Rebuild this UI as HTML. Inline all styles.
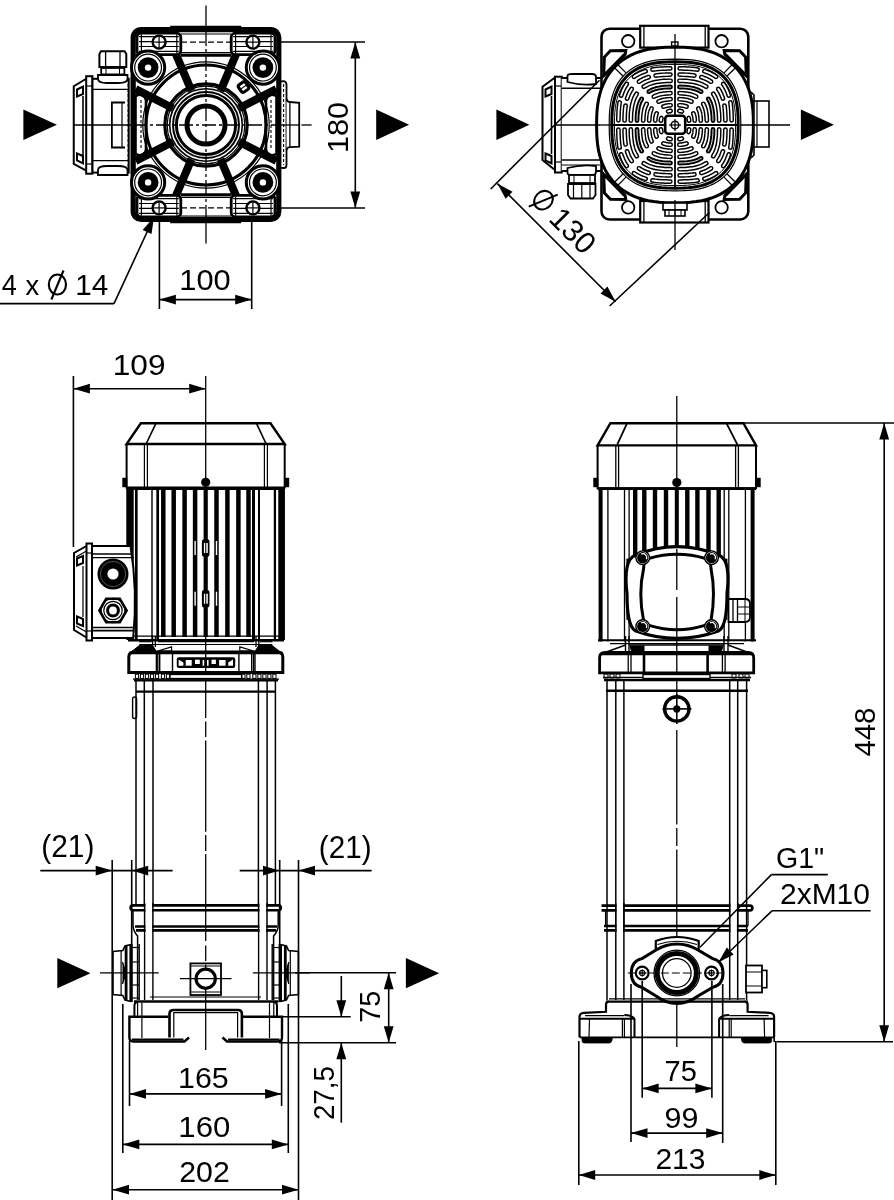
<!DOCTYPE html>
<html><head><meta charset="utf-8"><style>
html,body{margin:0;padding:0;background:#fff;width:894px;height:1200px;overflow:hidden}
svg{display:block;will-change:transform}
text{font-family:"Liberation Sans",sans-serif;fill:#000}
</style></head><body>
<svg width="894" height="1200" viewBox="0 0 894 1200" stroke="#000" fill="none" stroke-linecap="butt">
<line x1="205.7" y1="376.0" x2="205.7" y2="718.0" stroke-width="1.3" />
<line x1="205.7" y1="721.5" x2="205.7" y2="737.0" stroke-width="1.3" />
<line x1="205.7" y1="740.6" x2="205.7" y2="831.8" stroke-width="1.3" />
<line x1="205.7" y1="835.0" x2="205.7" y2="851.0" stroke-width="1.3" />
<line x1="205.7" y1="854.0" x2="205.7" y2="941.0" stroke-width="1.3" />
<line x1="205.7" y1="945.4" x2="205.7" y2="961.0" stroke-width="1.3" />
<line x1="205.7" y1="964.5" x2="205.7" y2="1050.0" stroke-width="1.3" />
<path d="M140.8,423.2 L270.5,423.2 L284.7,444 L126.6,444 Z" stroke-width="2.4" fill="none" />
<path d="M126.6,444 L126.6,487.6 L284.7,487.6 L284.7,444" stroke-width="2.0" fill="none" />
<line x1="155.7" y1="423.8" x2="146.1" y2="444.0" stroke-width="1.6" />
<line x1="256.7" y1="423.8" x2="266.2" y2="444.0" stroke-width="1.6" />
<line x1="144.4" y1="444.0" x2="144.4" y2="487.6" stroke-width="1.2" />
<line x1="147.4" y1="444.0" x2="147.4" y2="487.6" stroke-width="1.2" />
<line x1="264.4" y1="444.0" x2="264.4" y2="487.6" stroke-width="1.2" />
<line x1="267.4" y1="444.0" x2="267.4" y2="487.6" stroke-width="1.2" />
<rect x="123.0" y="478.5" width="3.6" height="8.0" rx="0" stroke-width="1.4" fill="#000" />
<rect x="284.9" y="478.5" width="3.6" height="8.0" rx="0" stroke-width="1.4" fill="#000" />
<circle cx="205.7" cy="482.3" r="4.6" stroke-width="0" fill="#000" stroke="none"/>
<line x1="126.6" y1="488.6" x2="284.7" y2="488.6" stroke-width="2.6" />
<line x1="130.0" y1="488.0" x2="130.0" y2="640.0" stroke-width="7.4" />
<line x1="136.3" y1="488.0" x2="136.3" y2="640.0" stroke-width="2.7" />
<line x1="152.0" y1="488.0" x2="152.0" y2="640.0" stroke-width="1.4" />
<line x1="157.7" y1="488.0" x2="157.7" y2="640.0" stroke-width="2.7" />
<line x1="163.3" y1="488.0" x2="163.3" y2="637.0" stroke-width="4.5" />
<line x1="173.7" y1="488.0" x2="173.7" y2="637.0" stroke-width="4.5" />
<line x1="184.6" y1="488.0" x2="184.6" y2="637.0" stroke-width="4.5" />
<line x1="195.1" y1="488.0" x2="195.1" y2="637.0" stroke-width="4.5" />
<line x1="216.5" y1="488.0" x2="216.5" y2="637.0" stroke-width="4.5" />
<line x1="227.4" y1="488.0" x2="227.4" y2="637.0" stroke-width="4.5" />
<line x1="238.4" y1="488.0" x2="238.4" y2="637.0" stroke-width="4.5" />
<line x1="248.5" y1="488.0" x2="248.5" y2="637.0" stroke-width="4.5" />
<line x1="205.7" y1="488.0" x2="205.7" y2="637.0" stroke-width="4.2" />
<line x1="253.5" y1="488.0" x2="253.5" y2="640.0" stroke-width="3.0" />
<line x1="259.0" y1="488.0" x2="259.0" y2="640.0" stroke-width="2.0" />
<line x1="274.9" y1="488.0" x2="274.9" y2="640.0" stroke-width="2.3" />
<line x1="281.6" y1="488.0" x2="281.6" y2="640.0" stroke-width="6.7" />
<line x1="128.0" y1="636.2" x2="284.0" y2="636.2" stroke-width="1.3" />
<line x1="128.0" y1="640.2" x2="284.0" y2="640.2" stroke-width="2.4" />
<rect x="202.6" y="540.0" width="6.2" height="16.0" rx="1.5" stroke-width="1.4" fill="#000" />
<rect x="203.9" y="543.0" width="1.3" height="10.0" rx="0" stroke-width="0" fill="#fff" stroke="none"/>
<rect x="206.3" y="543.0" width="1.5" height="10.0" rx="0" stroke-width="0" fill="#fff" stroke="none"/>
<rect x="194.4" y="541.0" width="1.4" height="14.0" rx="0" stroke-width="0" fill="#fff" stroke="none"/>
<rect x="215.8" y="541.0" width="1.4" height="14.0" rx="0" stroke-width="0" fill="#fff" stroke="none"/>
<rect x="202.6" y="590.7" width="6.2" height="16.0" rx="1.5" stroke-width="1.4" fill="#000" />
<rect x="203.9" y="593.7" width="1.3" height="10.0" rx="0" stroke-width="0" fill="#fff" stroke="none"/>
<rect x="206.3" y="593.7" width="1.5" height="10.0" rx="0" stroke-width="0" fill="#fff" stroke="none"/>
<rect x="194.4" y="591.7" width="1.4" height="14.0" rx="0" stroke-width="0" fill="#fff" stroke="none"/>
<rect x="215.8" y="591.7" width="1.4" height="14.0" rx="0" stroke-width="0" fill="#fff" stroke="none"/>
<path d="M92,546 L130.5,546 Q137.8,590 133.2,638 L92,638" stroke-width="2.0" fill="#fff" />
<line x1="92.0" y1="554.0" x2="133.0" y2="554.0" stroke-width="1.6" />
<line x1="92.0" y1="557.6" x2="134.0" y2="557.6" stroke-width="1.3" />
<line x1="92.0" y1="627.5" x2="135.0" y2="627.5" stroke-width="1.3" />
<line x1="92.0" y1="630.6" x2="134.5" y2="630.6" stroke-width="1.6" />
<rect x="86.5" y="543.5" width="5.5" height="97.0" rx="0" stroke-width="2.0" fill="#fff" />
<line x1="86.5" y1="553.0" x2="92.0" y2="553.0" stroke-width="1.2" />
<line x1="86.5" y1="631.0" x2="92.0" y2="631.0" stroke-width="1.2" />
<path d="M86.5,546 L74,553 L74,630 L86.5,637.5" stroke-width="2.0" fill="none" />
<line x1="76.0" y1="557.0" x2="86.5" y2="551.0" stroke-width="1.2" />
<line x1="76.0" y1="626.0" x2="86.5" y2="632.0" stroke-width="1.2" />
<path d="M77,558.5 L83,556 L83,563 L77,565.5 Z" stroke-width="2.0" fill="none" />
<path d="M77,616.5 L83,619 L83,626 L77,623.5 Z" stroke-width="2.0" fill="none" />
<line x1="83.0" y1="566.0" x2="83.0" y2="617.0" stroke-width="1.2" />
<circle cx="113.0" cy="574.0" r="15.5" stroke-width="0" fill="#000" stroke="none"/>
<circle cx="113.0" cy="574.0" r="12.6" stroke-width="0.6" fill="none" stroke="#888"/>
<circle cx="113.0" cy="574.0" r="5.6" stroke-width="0" fill="#fff" stroke="none"/>
<polygon points="126.6,610.5 119.8,622.3 106.2,622.3 99.4,610.5 106.2,598.7 119.8,598.7" stroke-width="2.6" fill="none"/>
<circle cx="113.0" cy="610.5" r="12.0" stroke-width="1.4" fill="none" />
<circle cx="113.0" cy="610.5" r="9.2" stroke-width="1.2" fill="none" />
<circle cx="113.0" cy="610.5" r="5.4" stroke-width="3.0" fill="none" />
<line x1="152.6" y1="636.0" x2="152.6" y2="647.0" stroke-width="1.3" />
<line x1="258.8" y1="636.0" x2="258.8" y2="647.0" stroke-width="1.3" />
<line x1="155.4" y1="636.0" x2="155.4" y2="647.0" stroke-width="1.3" />
<line x1="256.0" y1="636.0" x2="256.0" y2="647.0" stroke-width="1.3" />
<line x1="139.0" y1="641.7" x2="151.6" y2="641.7" stroke-width="1.2" />
<line x1="157.8" y1="641.7" x2="254.0" y2="641.7" stroke-width="1.2" />
<line x1="272.4" y1="641.7" x2="259.8" y2="641.7" stroke-width="1.2" />
<path d="M131.7,651.5 L139.3,645.5 L152,644.5 L156.4,651.5 Z" stroke-width="1.0" fill="#000" />
<path d="M157.8,651 L171.6,646.9 L171.6,651 Z" stroke-width="1.2" fill="none" />
<path d="M279.7,651.5 L272.09999999999997,645.5 L259.4,644.5 L254.99999999999997,651.5 Z" stroke-width="1.0" fill="#000" />
<path d="M253.59999999999997,651 L239.79999999999998,646.9 L239.79999999999998,651 Z" stroke-width="1.2" fill="none" />
<line x1="139.3" y1="644.5" x2="272.3" y2="644.5" stroke-width="1.2" />
<path d="M128.8,672.5 L128.8,657 Q128.8,652 134,652 L277.6,652 Q282.8,652 282.8,657 L282.8,672.5 Z" stroke-width="3.0" fill="none" />
<line x1="129.0" y1="653.0" x2="282.6" y2="653.0" stroke-width="2.4" />
<line x1="156.4" y1="653.0" x2="156.4" y2="672.5" stroke-width="1.4" />
<line x1="255.0" y1="653.0" x2="255.0" y2="672.5" stroke-width="1.4" />
<line x1="157.8" y1="653.0" x2="157.8" y2="672.5" stroke-width="1.4" />
<line x1="253.6" y1="653.0" x2="253.6" y2="672.5" stroke-width="1.4" />
<line x1="159.7" y1="653.0" x2="159.7" y2="672.5" stroke-width="1.4" />
<line x1="251.7" y1="653.0" x2="251.7" y2="672.5" stroke-width="1.4" />
<line x1="172.5" y1="653.0" x2="172.5" y2="672.5" stroke-width="1.4" />
<line x1="238.9" y1="653.0" x2="238.9" y2="672.5" stroke-width="1.4" />
<rect x="176.8" y="657.2" width="58.4" height="10.9" rx="2" stroke-width="0" fill="#000" stroke="none"/>
<rect x="185.7" y="660.0" width="6.0" height="5.7" rx="0" stroke-width="0" fill="#fff" stroke="none"/>
<rect x="195.0" y="659.7" width="4.8" height="4.3" rx="0" stroke-width="0" fill="#fff" stroke="none"/>
<rect x="202.6" y="660.0" width="1.6" height="5.7" rx="0" stroke-width="0" fill="#fff" stroke="none"/>
<rect x="207.0" y="660.0" width="1.6" height="5.7" rx="0" stroke-width="0" fill="#fff" stroke="none"/>
<rect x="211.5" y="659.7" width="4.4" height="4.3" rx="0" stroke-width="0" fill="#fff" stroke="none"/>
<rect x="219.1" y="660.0" width="6.5" height="5.7" rx="0" stroke-width="0" fill="#fff" stroke="none"/>
<path d="M178.6,659.6 L183.4,662.5 L183.4,665.8 L178.6,665.8 Z" stroke-width="0" fill="#fff" stroke="none"/>
<path d="M233,659.6 L228.2,662.5 L228.2,665.8 L233,665.8 Z" stroke-width="0" fill="#fff" stroke="none"/>
<line x1="174.0" y1="672.5" x2="238.0" y2="672.5" stroke-width="1.2" />
<line x1="133.0" y1="679.2" x2="279.0" y2="679.2" stroke-width="1.3" />
<rect x="135.4" y="674.2" width="3.2" height="4.2" rx="0" stroke-width="1.0" fill="none" />
<rect x="272.8" y="674.2" width="3.2" height="4.2" rx="0" stroke-width="1.0" fill="none" />
<rect x="140.4" y="674.2" width="3.2" height="4.2" rx="0" stroke-width="1.0" fill="none" />
<rect x="267.8" y="674.2" width="3.2" height="4.2" rx="0" stroke-width="1.0" fill="none" />
<rect x="145.4" y="674.2" width="3.2" height="4.2" rx="0" stroke-width="1.0" fill="none" />
<rect x="262.8" y="674.2" width="3.2" height="4.2" rx="0" stroke-width="1.0" fill="none" />
<rect x="150.4" y="674.2" width="3.2" height="4.2" rx="0" stroke-width="1.0" fill="none" />
<rect x="257.8" y="674.2" width="3.2" height="4.2" rx="0" stroke-width="1.0" fill="none" />
<rect x="155.4" y="674.2" width="3.2" height="4.2" rx="0" stroke-width="1.0" fill="none" />
<rect x="252.8" y="674.2" width="3.2" height="4.2" rx="0" stroke-width="1.0" fill="none" />
<rect x="161.4" y="674.2" width="3.2" height="4.2" rx="0" stroke-width="1.0" fill="none" />
<rect x="246.8" y="674.2" width="3.2" height="4.2" rx="0" stroke-width="1.0" fill="none" />
<rect x="166.4" y="674.2" width="3.2" height="4.2" rx="0" stroke-width="1.0" fill="none" />
<rect x="241.8" y="674.2" width="3.2" height="4.2" rx="0" stroke-width="1.0" fill="none" />
<rect x="170.0" y="674.5" width="71.6" height="4.0" rx="0" stroke-width="1.3" fill="#fff" />
<line x1="134.0" y1="680.4" x2="278.0" y2="680.4" stroke-width="2.2" />
<line x1="136.0" y1="691.6" x2="276.0" y2="691.6" stroke-width="2.4" />
<line x1="136.0" y1="681.0" x2="136.0" y2="905.0" stroke-width="1.5" />
<line x1="144.3" y1="681.0" x2="144.3" y2="905.0" stroke-width="1.5" />
<line x1="153.0" y1="681.0" x2="153.0" y2="905.0" stroke-width="1.5" />
<line x1="258.4" y1="681.0" x2="258.4" y2="905.0" stroke-width="1.5" />
<line x1="267.1" y1="681.0" x2="267.1" y2="905.0" stroke-width="1.5" />
<line x1="275.4" y1="681.0" x2="275.4" y2="905.0" stroke-width="1.5" />
<rect x="132.6" y="697.0" width="4.0" height="21.5" rx="2" stroke-width="1.4" fill="none" />
<path d="M133,905.4 L278.4,905.4 Q280.8,905.4 280.8,907.8 Q280.8,910.2 278.4,910.2 L133,910.2 Q130.6,910.2 130.6,907.8 Q130.6,905.4 133,905.4 Z" stroke-width="2.6" fill="none" />
<line x1="135.0" y1="926.5" x2="277.0" y2="926.5" stroke-width="2.4" />
<line x1="136.0" y1="930.4" x2="276.0" y2="930.4" stroke-width="2.8" />
<rect x="145.4" y="903.0" width="6.7" height="29.0" rx="0" stroke-width="0" fill="#fff" stroke="none"/>
<line x1="144.6" y1="903.0" x2="144.6" y2="932.0" stroke-width="1.5" />
<line x1="152.9" y1="903.0" x2="152.9" y2="932.0" stroke-width="1.5" />
<rect x="259.4" y="903.0" width="6.8" height="29.0" rx="0" stroke-width="0" fill="#fff" stroke="none"/>
<line x1="258.6" y1="903.0" x2="258.6" y2="932.0" stroke-width="1.5" />
<line x1="267.0" y1="903.0" x2="267.0" y2="932.0" stroke-width="1.5" />
<path d="M133,910.5 L133,925 Q133,931 137.6,936 L137.6,1000" stroke-width="1.5" fill="none" />
<path d="M278.2,910.5 L278.2,925 Q278.2,931 273.6,936 L273.6,1000" stroke-width="1.5" fill="none" />
<line x1="144.6" y1="929.0" x2="144.6" y2="1000.0" stroke-width="1.4" />
<line x1="152.9" y1="929.0" x2="152.9" y2="1000.0" stroke-width="1.4" />
<line x1="258.6" y1="929.0" x2="258.6" y2="1000.0" stroke-width="1.4" />
<line x1="267.0" y1="929.0" x2="267.0" y2="1000.0" stroke-width="1.4" />
<path d="M131,944.4 L125,946 L122.8,950.5 L113,951.5 L113,994.5 L122.8,995.5 L125,1000 L131,1001.5" stroke-width="1.6" fill="#fff" />
<line x1="121.1" y1="951.0" x2="121.1" y2="995.0" stroke-width="1.2" />
<line x1="126.1" y1="946.0" x2="126.1" y2="1000.0" stroke-width="2.8" />
<line x1="131.1" y1="944.0" x2="131.1" y2="1002.0" stroke-width="3.4" />
<path d="M122.5,962 L126,973 L122.5,984" stroke-width="1.2" fill="#000" />
<line x1="132.5" y1="947.5" x2="139.0" y2="947.5" stroke-width="1.2" />
<line x1="132.5" y1="962.0" x2="139.0" y2="962.0" stroke-width="1.2" />
<line x1="132.5" y1="985.0" x2="139.0" y2="985.0" stroke-width="1.2" />
<line x1="132.5" y1="998.0" x2="139.0" y2="998.0" stroke-width="1.2" />
<line x1="139.2" y1="944.0" x2="139.2" y2="1000.0" stroke-width="1.4" />
<path d="M280.4,944.4 L286.4,946 L288.59999999999997,950.5 L298.4,951.5 L298.4,994.5 L288.59999999999997,995.5 L286.4,1000 L280.4,1001.5" stroke-width="1.6" fill="#fff" />
<line x1="290.3" y1="951.0" x2="290.3" y2="995.0" stroke-width="1.2" />
<line x1="285.3" y1="946.0" x2="285.3" y2="1000.0" stroke-width="2.8" />
<line x1="280.3" y1="944.0" x2="280.3" y2="1002.0" stroke-width="3.4" />
<path d="M288.9,962 L285.4,973 L288.9,984" stroke-width="1.2" fill="#000" />
<line x1="278.9" y1="947.5" x2="272.4" y2="947.5" stroke-width="1.2" />
<line x1="278.9" y1="962.0" x2="272.4" y2="962.0" stroke-width="1.2" />
<line x1="278.9" y1="985.0" x2="272.4" y2="985.0" stroke-width="1.2" />
<line x1="278.9" y1="998.0" x2="272.4" y2="998.0" stroke-width="1.2" />
<line x1="272.2" y1="944.0" x2="272.2" y2="1000.0" stroke-width="1.4" />
<line x1="100.0" y1="972.8" x2="158.7" y2="972.8" stroke-width="1.3" />
<line x1="252.9" y1="972.8" x2="310.0" y2="972.8" stroke-width="1.3" />
<rect x="190.4" y="963.4" width="30.6" height="31.6" rx="0" stroke-width="1.8" fill="none" />
<line x1="190.4" y1="966.0" x2="221.0" y2="966.0" stroke-width="1.0" />
<line x1="190.4" y1="992.0" x2="221.0" y2="992.0" stroke-width="1.0" />
<circle cx="205.7" cy="978.7" r="9.6" stroke-width="3.2" fill="#fff" />
<line x1="180.0" y1="978.7" x2="231.5" y2="978.7" stroke-width="1.3" />
<line x1="150.0" y1="997.0" x2="261.0" y2="997.0" stroke-width="1.2" />
<line x1="134.0" y1="1001.5" x2="278.5" y2="1001.5" stroke-width="2.6" />
<path d="M134.4,1016.8 L134.4,1006 Q134.4,1002 138,1002 M277,1016.8 L277,1006 Q277,1002 273.4,1002" stroke-width="2.0" fill="none" />
<line x1="137.6" y1="1003.0" x2="137.6" y2="1016.8" stroke-width="1.2" />
<line x1="141.9" y1="1003.0" x2="141.9" y2="1016.8" stroke-width="1.2" />
<line x1="269.5" y1="1003.0" x2="269.5" y2="1016.8" stroke-width="1.2" />
<line x1="273.8" y1="1003.0" x2="273.8" y2="1016.8" stroke-width="1.2" />
<path d="M189,1037.5 L184.5,1041.5 L133.4,1041.5 Q129.4,1041.5 129.4,1037.5 L129.4,1016.8 L168.5,1016.8 M243,1016.8 L282,1016.8 L282,1037.5 Q282,1041.5 278,1041.5 L227,1041.5 L222.5,1037.5" stroke-width="2.4" fill="none" />
<line x1="132.0" y1="1039.6" x2="183.5" y2="1039.6" stroke-width="2.0" />
<line x1="228.0" y1="1039.6" x2="279.5" y2="1039.6" stroke-width="2.0" />
<path d="M169.5,1037.5 L169.5,1014 Q169.5,1010 173.5,1010 L237.9,1010 Q241.9,1010 241.9,1014 L241.9,1037.5" stroke-width="2.6" fill="none" />
<path d="M173.8,1037.5 L173.8,1012.6 L237.6,1012.6 L237.6,1037.5" stroke-width="1.2" fill="none" />
<line x1="141.9" y1="1018.0" x2="141.9" y2="1038.0" stroke-width="1.2" />
<line x1="269.5" y1="1018.0" x2="269.5" y2="1038.0" stroke-width="1.2" />
<line x1="676.8" y1="396.0" x2="676.8" y2="722.0" stroke-width="1.3" />
<line x1="676.8" y1="730.0" x2="676.8" y2="824.6" stroke-width="1.3" />
<line x1="676.8" y1="828.0" x2="676.8" y2="846.0" stroke-width="1.3" />
<line x1="676.8" y1="849.4" x2="676.8" y2="1047.0" stroke-width="1.3" />
<path d="M610.4,423.2 L743.4,423.2 L756,445.4 L597.6,445.4 Z" stroke-width="2.4" fill="none" />
<path d="M597.6,445.4 L597.6,488.3 L756,488.3 L756,445.4" stroke-width="2.0" fill="none" />
<line x1="626.8" y1="423.8" x2="617.2" y2="444.6" stroke-width="1.8" />
<line x1="726.8" y1="423.8" x2="737.4" y2="444.6" stroke-width="1.8" />
<line x1="615.8" y1="445.4" x2="615.8" y2="488.3" stroke-width="1.3" />
<line x1="618.6" y1="445.4" x2="618.6" y2="488.3" stroke-width="1.3" />
<line x1="735.6" y1="445.4" x2="735.6" y2="488.3" stroke-width="1.3" />
<line x1="738.4" y1="445.4" x2="738.4" y2="488.3" stroke-width="1.3" />
<rect x="594.0" y="478.5" width="3.6" height="8.0" rx="0" stroke-width="1.4" fill="#000" />
<rect x="756.4" y="478.5" width="3.6" height="8.0" rx="0" stroke-width="1.4" fill="#000" />
<circle cx="676.8" cy="482.5" r="4.6" stroke-width="0" fill="#000" stroke="none"/>
<line x1="597.6" y1="488.6" x2="756.0" y2="488.6" stroke-width="2.6" />
<line x1="600.6" y1="488.0" x2="600.6" y2="641.5" stroke-width="4.0" />
<line x1="607.9" y1="488.0" x2="607.9" y2="641.5" stroke-width="1.3" />
<line x1="752.6" y1="488.0" x2="752.6" y2="641.5" stroke-width="4.0" />
<line x1="745.4" y1="488.0" x2="745.4" y2="641.5" stroke-width="1.3" />
<line x1="624.5" y1="488.0" x2="624.5" y2="641.5" stroke-width="1.3" />
<line x1="629.1" y1="488.0" x2="629.1" y2="641.5" stroke-width="1.3" />
<line x1="724.2" y1="488.0" x2="724.2" y2="641.5" stroke-width="1.3" />
<line x1="728.8" y1="488.0" x2="728.8" y2="641.5" stroke-width="1.3" />
<line x1="635.2" y1="488.0" x2="635.2" y2="600.0" stroke-width="4.4" />
<line x1="644.3" y1="488.0" x2="644.3" y2="600.0" stroke-width="4.4" />
<line x1="655.0" y1="488.0" x2="655.0" y2="600.0" stroke-width="4.4" />
<line x1="666.0" y1="488.0" x2="666.0" y2="600.0" stroke-width="4.4" />
<line x1="687.3" y1="488.0" x2="687.3" y2="600.0" stroke-width="4.4" />
<line x1="697.4" y1="488.0" x2="697.4" y2="600.0" stroke-width="4.4" />
<line x1="708.5" y1="488.0" x2="708.5" y2="600.0" stroke-width="4.4" />
<line x1="718.7" y1="488.0" x2="718.7" y2="600.0" stroke-width="4.4" />
<line x1="676.8" y1="488.0" x2="676.8" y2="600.0" stroke-width="4.0" />
<line x1="598.0" y1="640.2" x2="756.0" y2="640.2" stroke-width="2.0" />
<line x1="610.0" y1="643.6" x2="744.0" y2="643.6" stroke-width="1.3" />
<rect x="627.2" y="559.4" width="99.4" height="59.6" rx="0" stroke-width="1.6" fill="#fff" />
<path d="M635.2,555.2 Q677,538 719,555.2 Q731,560 727,593.8 Q727,626 719,630.7 Q677,646 635.2,630.7 Q627,626 627,593.8 Q623,560 635.2,555.2 Z" stroke-width="3.2" fill="#fff" />
<path d="M648.6,558.5 Q677,550 705.6,558.5 Q711,560 711,568.6 Q716,593.8 711,620.6 Q710,625.6 704,625.6 Q677,634 650,625.6 Q644,625 643.6,620.6 Q638,593.8 643.6,568.6 Q643.6,559.5 648.6,558.5 Z" stroke-width="3.0" fill="#fff" />
<line x1="676.8" y1="549.0" x2="676.8" y2="590.0" stroke-width="1.3" />
<line x1="676.8" y1="597.0" x2="676.8" y2="640.0" stroke-width="1.3" />
<circle cx="642.7" cy="557.7" r="6.8" stroke-width="1.4" fill="#fff" />
<circle cx="642.7" cy="557.7" r="5.6" stroke-width="0" fill="#000" stroke="none"/>
<path d="M641.2,554.1 A3.8,3.8 0 0 1 646.3,559.2" stroke="#fff" stroke-width="1.2"/>
<circle cx="711.5" cy="557.7" r="6.8" stroke-width="1.4" fill="#fff" />
<circle cx="711.5" cy="557.7" r="5.6" stroke-width="0" fill="#000" stroke="none"/>
<path d="M710.0,554.1 A3.8,3.8 0 0 1 715.1,559.2" stroke="#fff" stroke-width="1.2"/>
<circle cx="642.7" cy="626.5" r="6.8" stroke-width="1.4" fill="#fff" />
<circle cx="642.7" cy="626.5" r="5.6" stroke-width="0" fill="#000" stroke="none"/>
<path d="M641.2,622.9 A3.8,3.8 0 0 1 646.3,628.0" stroke="#fff" stroke-width="1.2"/>
<circle cx="711.5" cy="626.5" r="6.8" stroke-width="1.4" fill="#fff" />
<circle cx="711.5" cy="626.5" r="5.6" stroke-width="0" fill="#000" stroke="none"/>
<path d="M710.0,622.9 A3.8,3.8 0 0 1 715.1,628.0" stroke="#fff" stroke-width="1.2"/>
<path d="M728.5,599 L745,599 Q750,599 750,604 L750,617 Q750,622 745,622 L728.5,622 Z" stroke-width="1.8" fill="#fff" />
<line x1="733.0" y1="599.0" x2="733.0" y2="622.0" stroke-width="1.3" />
<line x1="737.5" y1="599.0" x2="737.5" y2="622.0" stroke-width="1.3" />
<line x1="745.0" y1="600.0" x2="745.0" y2="621.0" stroke-width="1.0" />
<line x1="737.5" y1="607.0" x2="750.0" y2="607.0" stroke-width="1.0" />
<line x1="737.5" y1="614.0" x2="750.0" y2="614.0" stroke-width="1.0" />
<line x1="625.5" y1="636.0" x2="625.5" y2="653.5" stroke-width="1.4" />
<line x1="629.0" y1="636.0" x2="629.0" y2="653.5" stroke-width="1.4" />
<line x1="724.0" y1="636.0" x2="724.0" y2="653.5" stroke-width="1.4" />
<line x1="728.0" y1="636.0" x2="728.0" y2="653.5" stroke-width="1.4" />
<path d="M602.4,653.5 L625.5,645 M629,645 L724,645 M728,645 L751,653.5" stroke-width="1.6" fill="none" />
<path d="M630,646 L644,646 L644,653 L632,653 Z" stroke-width="1.0" fill="#000" />
<path d="M723,646 L709,646 L709,653 L721,653 Z" stroke-width="1.0" fill="#000" />
<path d="M599.6,672.8 L599.6,658 Q599.6,652.5 605,652.5 L748.3,652.5 Q753.7,652.5 753.7,658 L753.7,672.8 Z" stroke-width="2.8" fill="none" />
<line x1="600.0" y1="654.2" x2="753.0" y2="654.2" stroke-width="2.0" />
<line x1="628.2" y1="654.0" x2="628.2" y2="672.8" stroke-width="1.3" />
<line x1="631.0" y1="654.0" x2="631.0" y2="672.8" stroke-width="1.3" />
<line x1="722.4" y1="654.0" x2="722.4" y2="672.8" stroke-width="1.3" />
<line x1="725.1" y1="654.0" x2="725.1" y2="672.8" stroke-width="1.3" />
<line x1="644.0" y1="654.0" x2="644.0" y2="672.8" stroke-width="2.6" />
<line x1="707.6" y1="654.0" x2="707.6" y2="672.8" stroke-width="2.6" />
<line x1="603.0" y1="677.5" x2="751.0" y2="677.5" stroke-width="1.3" />
<rect x="604.0" y="674.0" width="4.0" height="4.0" rx="0" stroke-width="1.0" fill="none" />
<rect x="610.0" y="674.0" width="4.0" height="4.0" rx="0" stroke-width="1.0" fill="none" />
<rect x="616.0" y="674.0" width="4.0" height="4.0" rx="0" stroke-width="1.0" fill="none" />
<rect x="732.0" y="674.0" width="4.0" height="4.0" rx="0" stroke-width="1.0" fill="none" />
<rect x="739.0" y="674.0" width="4.0" height="4.0" rx="0" stroke-width="1.0" fill="none" />
<rect x="745.0" y="674.0" width="4.0" height="4.0" rx="0" stroke-width="1.0" fill="none" />
<rect x="643.0" y="674.5" width="67.0" height="4.0" rx="0" stroke-width="1.4" fill="#fff" />
<line x1="604.0" y1="680.2" x2="750.0" y2="680.2" stroke-width="2.2" />
<line x1="606.0" y1="690.8" x2="748.0" y2="690.8" stroke-width="2.4" />
<line x1="607.0" y1="681.0" x2="607.0" y2="1000.0" stroke-width="1.5" />
<line x1="615.8" y1="681.0" x2="615.8" y2="1000.0" stroke-width="1.5" />
<line x1="623.9" y1="681.0" x2="623.9" y2="1000.0" stroke-width="1.5" />
<line x1="729.7" y1="681.0" x2="729.7" y2="1000.0" stroke-width="1.5" />
<line x1="737.7" y1="681.0" x2="737.7" y2="1000.0" stroke-width="1.5" />
<line x1="746.6" y1="681.0" x2="746.6" y2="1000.0" stroke-width="1.5" />
<circle cx="676.8" cy="708.9" r="12.2" stroke-width="3.4" fill="#fff" />
<circle cx="676.8" cy="708.9" r="3.6" stroke-width="0" fill="#000" stroke="none"/>
<line x1="662.4" y1="708.9" x2="691.5" y2="708.9" stroke-width="1.6" />
<line x1="676.8" y1="694.0" x2="676.8" y2="724.0" stroke-width="1.6" />
<path d="M601.5,905.6 L750,905.6 Q752.4,905.6 752.4,908 Q752.4,910.4 750,910.4 L601.5,910.4" stroke-width="2.6" fill="none" />
<line x1="604.0" y1="926.0" x2="748.0" y2="926.0" stroke-width="2.4" />
<line x1="604.0" y1="930.4" x2="748.0" y2="930.4" stroke-width="2.8" />
<line x1="748.0" y1="910.0" x2="748.0" y2="926.0" stroke-width="1.3" />
<line x1="605.6" y1="910.0" x2="605.6" y2="926.0" stroke-width="1.3" />
<rect x="616.6" y="903.0" width="6.5" height="29.0" rx="0" stroke-width="0" fill="#fff" stroke="none"/>
<line x1="615.8" y1="903.0" x2="615.8" y2="932.0" stroke-width="1.5" />
<line x1="623.9" y1="903.0" x2="623.9" y2="932.0" stroke-width="1.5" />
<rect x="730.5" y="903.0" width="6.4" height="29.0" rx="0" stroke-width="0" fill="#fff" stroke="none"/>
<line x1="729.7" y1="903.0" x2="729.7" y2="932.0" stroke-width="1.5" />
<line x1="737.7" y1="903.0" x2="737.7" y2="932.0" stroke-width="1.5" />
<path d="M655.8,952 L655.8,941 Q677,933 698.7,941 L698.7,952" stroke-width="2.2" fill="#fff" />
<path d="M657.5,944.5 Q677,938 697,944.5" stroke-width="1.2" fill="none" />
<path d="M631.3,973 Q631.3,961 642,958.6 L656,950 Q666,944 677,944 Q688,944 698,950 L712.6,958.6 Q723,961 723,973 Q723,985 712.6,987.4 L698,996 Q688,1003.5 677,1003.5 Q666,1003.5 656,996 L642,987.4 Q631.3,985 631.3,973 Z" stroke-width="3.0" fill="#fff" />
<circle cx="676.8" cy="973.0" r="22.8" stroke-width="1.3" fill="none" />
<circle cx="676.8" cy="973.0" r="19.6" stroke-width="5.0" fill="#fff" />
<circle cx="676.8" cy="973.0" r="14.3" stroke-width="1.3" fill="none" />
<circle cx="642.2" cy="973.0" r="6.4" stroke-width="2.2" fill="#fff" />
<circle cx="642.2" cy="973.0" r="2.6" stroke-width="1.1" fill="none" />
<line x1="638.7" y1="973.0" x2="645.7" y2="973.0" stroke-width="1.0" />
<line x1="642.2" y1="969.5" x2="642.2" y2="976.5" stroke-width="1.0" />
<circle cx="711.5" cy="973.0" r="6.4" stroke-width="2.2" fill="#fff" />
<circle cx="711.5" cy="973.0" r="2.6" stroke-width="1.1" fill="none" />
<line x1="708.0" y1="973.0" x2="715.0" y2="973.0" stroke-width="1.0" />
<line x1="711.5" y1="969.5" x2="711.5" y2="976.5" stroke-width="1.0" />
<line x1="627.8" y1="973.0" x2="725.0" y2="973.0" stroke-width="1.2" stroke-dasharray="8 3"/>
<rect x="746.0" y="965.5" width="16.0" height="27.0" rx="0" stroke-width="1.8" fill="#fff" />
<rect x="762.0" y="970.4" width="4.8" height="17.3" rx="0" stroke-width="1.6" fill="#fff" />
<line x1="746.0" y1="972.0" x2="762.0" y2="972.0" stroke-width="1.0" />
<line x1="746.0" y1="986.0" x2="762.0" y2="986.0" stroke-width="1.0" />
<line x1="606.0" y1="1001.6" x2="748.0" y2="1001.6" stroke-width="2.4" />
<path d="M579.5,1037.3 L579.5,1017 Q579.5,1013 584,1012.8 L606,1011.8 L606,1004.5 Q606,1001.6 609,1001.6" stroke-width="2.2" fill="none" />
<line x1="580.0" y1="1018.7" x2="634.5" y2="1018.7" stroke-width="2.0" />
<line x1="585.0" y1="1015.7" x2="624.4" y2="1015.7" stroke-width="1.2" />
<path d="M624.4,1015 Q632,1015 634.5,1019 L634.5,1037.3" stroke-width="2.0" fill="none" />
<line x1="579.5" y1="1037.3" x2="634.5" y2="1037.3" stroke-width="1.8" />
<path d="M582,1037.5 L582,1041 Q582,1043 585,1043 L609,1043 Q612.3,1043 612.3,1037.5 Z" stroke-width="0.8" fill="#000" />
<line x1="589.5" y1="1019.0" x2="589.0" y2="1037.3" stroke-width="1.2" />
<line x1="622.4" y1="1019.0" x2="622.4" y2="1037.3" stroke-width="1.2" />
<line x1="624.4" y1="1019.0" x2="624.4" y2="1037.3" stroke-width="1.2" />
<path d="M774.0999999999999,1037.3 L774.0999999999999,1017 Q774.0999999999999,1013 769.5999999999999,1012.8 L747.5999999999999,1011.8 L747.5999999999999,1004.5 Q747.5999999999999,1001.6 744.5999999999999,1001.6" stroke-width="2.2" fill="none" />
<line x1="773.6" y1="1018.7" x2="719.1" y2="1018.7" stroke-width="2.0" />
<line x1="768.6" y1="1015.7" x2="729.2" y2="1015.7" stroke-width="1.2" />
<path d="M729.1999999999999,1015 Q721.5999999999999,1015 719.0999999999999,1019 L719.0999999999999,1037.3" stroke-width="2.0" fill="none" />
<line x1="774.1" y1="1037.3" x2="719.1" y2="1037.3" stroke-width="1.8" />
<path d="M771.5999999999999,1037.5 L771.5999999999999,1041 Q771.5999999999999,1043 768.5999999999999,1043 L744.5999999999999,1043 Q741.3,1043 741.3,1037.5 Z" stroke-width="0.8" fill="#000" />
<line x1="764.1" y1="1019.0" x2="764.6" y2="1037.3" stroke-width="1.2" />
<line x1="731.2" y1="1019.0" x2="731.2" y2="1037.3" stroke-width="1.2" />
<line x1="729.2" y1="1019.0" x2="729.2" y2="1037.3" stroke-width="1.2" />
<line x1="634.5" y1="1037.3" x2="719.1" y2="1037.3" stroke-width="1.8" />
<line x1="609.0" y1="998.8" x2="745.0" y2="998.8" stroke-width="1.2" />
<line x1="774.2" y1="1037.3" x2="774.2" y2="1042.0" stroke-width="1.6" />
<path d="M86.25,78.75 L73.75,86.25 L73.75,164 L86.25,170.6" stroke-width="2.0" fill="#fff" />
<rect x="86.2" y="76.2" width="6.2" height="97.5" rx="0" stroke-width="2.0" fill="#fff" />
<line x1="86.2" y1="86.0" x2="92.5" y2="86.0" stroke-width="1.2" />
<line x1="86.2" y1="164.0" x2="92.5" y2="164.0" stroke-width="1.2" />
<rect x="92.5" y="78.8" width="36.2" height="93.8" rx="0" stroke-width="2.0" fill="#fff" />
<line x1="92.5" y1="89.4" x2="128.8" y2="89.4" stroke-width="1.4" />
<line x1="92.5" y1="160.6" x2="128.8" y2="160.6" stroke-width="1.4" />
<path d="M125,102.5 L111.9,102.5 L111.9,147.5 L125,147.5" stroke-width="1.8" fill="none" />
<line x1="122.0" y1="102.5" x2="122.0" y2="147.5" stroke-width="1.2" />
<line x1="128.2" y1="79.0" x2="128.2" y2="172.0" stroke-width="1.2" stroke-dasharray="3 2"/>
<line x1="131.9" y1="77.0" x2="131.9" y2="174.0" stroke-width="2.2" />
<path d="M77,89.5 L83,86.5 L83,94 L77,96.5 Z" stroke-width="2.0" fill="none" />
<path d="M77,153.5 L83,156 L83,163.5 L77,160.5 Z" stroke-width="2.0" fill="none" />
<line x1="83.0" y1="96.0" x2="83.0" y2="155.0" stroke-width="1.6" />
<path d="M101,51.3 L124.6,51.3 L126.3,54 L126.3,66.9 L99.4,66.9 L99.4,54 Z" stroke-width="2.0" fill="#fff" />
<line x1="105.6" y1="52.0" x2="105.6" y2="66.0" stroke-width="1.3" />
<line x1="120.0" y1="52.0" x2="120.0" y2="66.0" stroke-width="1.3" />
<rect x="101.2" y="68.0" width="23.2" height="6.4" rx="0" stroke-width="1.8" fill="#fff" />
<line x1="106.0" y1="68.0" x2="106.0" y2="74.0" stroke-width="1.0" />
<line x1="119.5" y1="68.0" x2="119.5" y2="74.0" stroke-width="1.0" />
<path d="M98,75 L127.5,75 L127.5,79 Q127.5,83 118,83 L107,83 Q98,83 98,79 Z" stroke-width="1.8" fill="#fff" />
<path d="M98,175 L127.5,175 L127.5,170 Q127.5,166 118,166 L107,166 Q98,166 98,170 Z" stroke-width="1.8" fill="#fff" />
<path d="M280,81.5 L284,81.2 Q286.5,82 286.5,85 L286.5,165 Q286.5,168 284,168 L280,167.8" stroke-width="1.8" fill="#fff" />
<line x1="283.6" y1="84.0" x2="283.6" y2="165.0" stroke-width="1.1" stroke-dasharray="3 2"/>
<path d="M286.5,99 Q287,102 290,102 L299.2,102.9 L299.2,146.7 L290,147.2 Q287,147.2 286.5,150" stroke-width="1.8" fill="#fff" />
<line x1="289.9" y1="102.5" x2="289.9" y2="147.0" stroke-width="1.3" />
<rect x="133.2" y="29.6" width="145.6" height="189.8" rx="8" stroke-width="5.2" fill="#fff" />
<path d="M171,30 L171,26.5 L240.4,26.5 L240.4,30" stroke-width="1.6" fill="none" />
<path d="M171,218 L171,222.5 L240.4,222.5 L240.4,218" stroke-width="1.6" fill="none" />
<path d="M135.5,96 Q144,92 146,100 L146,150 Q144,158 135.5,154 Z" stroke-width="2.6" fill="#fff" />
<line x1="141.0" y1="100.0" x2="141.0" y2="150.0" stroke-width="1.1" stroke-dasharray="3 2"/>
<path d="M276.5,96 Q268.0,92 266.0,100 L266.0,150 Q268.0,158 276.5,154 Z" stroke-width="2.6" fill="#fff" />
<line x1="271.0" y1="100.0" x2="271.0" y2="150.0" stroke-width="1.1" stroke-dasharray="3 2"/>
<circle cx="206.0" cy="125.0" r="63.2" stroke-width="1.2" fill="none" />
<circle cx="206.0" cy="125.0" r="60.0" stroke-width="3.0" fill="none" />
<circle cx="206.0" cy="125.0" r="41.2" stroke-width="3.2" fill="#fff" />
<circle cx="206.0" cy="125.0" r="38.8" stroke-width="1.2" fill="none" />
<circle cx="206.0" cy="125.0" r="36.3" stroke-width="1.6" fill="none" />
<circle cx="206.0" cy="125.0" r="33.0" stroke-width="2.0" fill="none" />
<circle cx="206.0" cy="125.0" r="29.6" stroke-width="3.0" fill="none" />
<circle cx="206.0" cy="125.0" r="19.0" stroke-width="5.0" fill="none" />
<line x1="220.5" y1="90.9" x2="236.9" y2="52.3" stroke-width="8.0"/>
<line x1="191.5" y1="90.9" x2="175.1" y2="52.3" stroke-width="8.0"/>
<line x1="220.5" y1="159.1" x2="236.9" y2="197.7" stroke-width="8.0"/>
<line x1="191.5" y1="159.1" x2="175.1" y2="197.7" stroke-width="8.0"/>
<line x1="239.0" y1="108.2" x2="276.4" y2="89.1" stroke-width="8.0"/>
<line x1="173.0" y1="108.2" x2="135.6" y2="89.1" stroke-width="8.0"/>
<line x1="239.0" y1="141.8" x2="276.4" y2="160.9" stroke-width="8.0"/>
<line x1="173.0" y1="141.8" x2="135.6" y2="160.9" stroke-width="8.0"/>
<rect x="137.0" y="33.2" width="43.8" height="21.4" rx="4" stroke-width="2.8" fill="#fff" />
<line x1="139.0" y1="36.6" x2="178.8" y2="36.6" stroke-width="1.1" />
<line x1="139.0" y1="41.6" x2="178.8" y2="41.6" stroke-width="1.1" />
<line x1="139.0" y1="46.5" x2="178.8" y2="46.5" stroke-width="1.1" />
<line x1="139.0" y1="51.4" x2="178.8" y2="51.4" stroke-width="1.1" />
<line x1="141.4" y1="34.2" x2="141.4" y2="53.6" stroke-width="1.2" />
<line x1="176.8" y1="34.2" x2="176.8" y2="53.6" stroke-width="1.2" />
<circle cx="159.1" cy="42.1" r="6.5" stroke-width="2.4" fill="#fff" />
<line x1="153.1" y1="42.1" x2="165.1" y2="42.1" stroke-width="1.2" />
<line x1="159.1" y1="36.1" x2="159.1" y2="48.1" stroke-width="1.2" />
<rect x="231.2" y="33.2" width="43.8" height="21.4" rx="4" stroke-width="2.8" fill="#fff" />
<line x1="233.2" y1="36.6" x2="273.0" y2="36.6" stroke-width="1.1" />
<line x1="233.2" y1="41.6" x2="273.0" y2="41.6" stroke-width="1.1" />
<line x1="233.2" y1="46.5" x2="273.0" y2="46.5" stroke-width="1.1" />
<line x1="233.2" y1="51.4" x2="273.0" y2="51.4" stroke-width="1.1" />
<line x1="235.6" y1="34.2" x2="235.6" y2="53.6" stroke-width="1.2" />
<line x1="271.0" y1="34.2" x2="271.0" y2="53.6" stroke-width="1.2" />
<circle cx="252.9" cy="42.1" r="6.5" stroke-width="2.4" fill="#fff" />
<line x1="246.9" y1="42.1" x2="258.9" y2="42.1" stroke-width="1.2" />
<line x1="252.9" y1="36.1" x2="252.9" y2="48.1" stroke-width="1.2" />
<rect x="137.0" y="195.4" width="43.8" height="21.4" rx="4" stroke-width="2.8" fill="#fff" />
<line x1="139.0" y1="213.4" x2="178.8" y2="213.4" stroke-width="1.1" />
<line x1="139.0" y1="208.4" x2="178.8" y2="208.4" stroke-width="1.1" />
<line x1="139.0" y1="203.5" x2="178.8" y2="203.5" stroke-width="1.1" />
<line x1="139.0" y1="198.6" x2="178.8" y2="198.6" stroke-width="1.1" />
<line x1="141.4" y1="196.4" x2="141.4" y2="215.8" stroke-width="1.2" />
<line x1="176.8" y1="196.4" x2="176.8" y2="215.8" stroke-width="1.2" />
<circle cx="159.1" cy="207.9" r="6.5" stroke-width="2.4" fill="#fff" />
<line x1="153.1" y1="207.9" x2="165.1" y2="207.9" stroke-width="1.2" />
<line x1="159.1" y1="201.9" x2="159.1" y2="213.9" stroke-width="1.2" />
<rect x="231.2" y="195.4" width="43.8" height="21.4" rx="4" stroke-width="2.8" fill="#fff" />
<line x1="233.2" y1="213.4" x2="273.0" y2="213.4" stroke-width="1.1" />
<line x1="233.2" y1="208.4" x2="273.0" y2="208.4" stroke-width="1.1" />
<line x1="233.2" y1="203.5" x2="273.0" y2="203.5" stroke-width="1.1" />
<line x1="233.2" y1="198.6" x2="273.0" y2="198.6" stroke-width="1.1" />
<line x1="235.6" y1="196.4" x2="235.6" y2="215.8" stroke-width="1.2" />
<line x1="271.0" y1="196.4" x2="271.0" y2="215.8" stroke-width="1.2" />
<circle cx="252.9" cy="207.9" r="6.5" stroke-width="2.4" fill="#fff" />
<line x1="246.9" y1="207.9" x2="258.9" y2="207.9" stroke-width="1.2" />
<line x1="252.9" y1="201.9" x2="252.9" y2="213.9" stroke-width="1.2" />
<line x1="181.0" y1="52.6" x2="231.0" y2="52.6" stroke-width="1.2" />
<line x1="181.0" y1="55.2" x2="231.0" y2="55.2" stroke-width="3.0" />
<line x1="181.0" y1="42.1" x2="231.0" y2="42.1" stroke-width="1.3" stroke-dasharray="6 3"/>
<line x1="181.0" y1="34.0" x2="231.0" y2="34.0" stroke-width="1.2" />
<line x1="181.0" y1="197.4" x2="231.0" y2="197.4" stroke-width="1.2" />
<line x1="181.0" y1="194.8" x2="231.0" y2="194.8" stroke-width="3.0" />
<line x1="181.0" y1="207.9" x2="231.0" y2="207.9" stroke-width="1.3" stroke-dasharray="6 3"/>
<line x1="181.0" y1="216.0" x2="231.0" y2="216.0" stroke-width="1.2" />
<circle cx="148.1" cy="67.6" r="16.6" stroke-width="3.0" fill="#fff" />
<circle cx="262.9" cy="67.6" r="16.6" stroke-width="3.0" fill="#fff" />
<circle cx="148.1" cy="182.4" r="16.6" stroke-width="3.0" fill="#fff" />
<circle cx="262.9" cy="182.4" r="16.6" stroke-width="3.0" fill="#fff" />
<circle cx="148.1" cy="67.6" r="13.4" stroke-width="1.2" fill="#fff" />
<circle cx="148.1" cy="67.6" r="10.4" stroke-width="0" fill="#000" stroke="none"/>
<circle cx="148.1" cy="67.6" r="3.2" stroke-width="0" fill="#fff" stroke="none"/>
<circle cx="262.9" cy="67.6" r="13.4" stroke-width="1.2" fill="#fff" />
<circle cx="262.9" cy="67.6" r="10.4" stroke-width="0" fill="#000" stroke="none"/>
<circle cx="262.9" cy="67.6" r="3.2" stroke-width="0" fill="#fff" stroke="none"/>
<circle cx="148.1" cy="182.4" r="13.4" stroke-width="1.2" fill="#fff" />
<circle cx="148.1" cy="182.4" r="10.4" stroke-width="0" fill="#000" stroke="none"/>
<circle cx="148.1" cy="182.4" r="3.2" stroke-width="0" fill="#fff" stroke="none"/>
<circle cx="262.9" cy="182.4" r="13.4" stroke-width="1.2" fill="#fff" />
<circle cx="262.9" cy="182.4" r="10.4" stroke-width="0" fill="#000" stroke="none"/>
<circle cx="262.9" cy="182.4" r="3.2" stroke-width="0" fill="#fff" stroke="none"/>
<g transform="rotate(-35 243.5 87)"><rect x="238.5" y="82" width="10" height="10" rx="3" stroke-width="1.8" fill="#000"/><rect x="240.8" y="84.2" width="5.4" height="2.4" fill="#fff" stroke="none"/><rect x="240.8" y="87.6" width="5.4" height="2.4" fill="#fff" stroke="none"/></g>
<line x1="206.0" y1="5.5" x2="206.0" y2="30.0" stroke-width="1.3" />
<line x1="206.0" y1="30.0" x2="206.0" y2="220.0" stroke-width="1.3" stroke-dasharray="16 3 3 3"/>
<line x1="206.0" y1="220.0" x2="206.0" y2="243.5" stroke-width="1.3" />
<line x1="73.0" y1="125.0" x2="133.0" y2="125.0" stroke-width="1.3" />
<line x1="133.0" y1="125.0" x2="281.0" y2="125.0" stroke-width="1.3" stroke-dasharray="14 3 3 3"/>
<line x1="281.0" y1="125.0" x2="299.2" y2="125.0" stroke-width="1.3" />
<line x1="301.5" y1="125.0" x2="311.6" y2="125.0" stroke-width="1.3" />
<path d="M555,77.5 L542.5,86.7 L542.5,160 L555,170" stroke-width="2.0" fill="#fff" />
<rect x="555.0" y="76.7" width="6.7" height="95.8" rx="0" stroke-width="2.0" fill="#fff" />
<line x1="555.0" y1="86.0" x2="561.7" y2="86.0" stroke-width="1.2" />
<line x1="555.0" y1="162.0" x2="561.7" y2="162.0" stroke-width="1.2" />
<path d="M561.7,78 L603,78 L603,171 L561.7,171" stroke-width="2.0" fill="#fff" />
<line x1="561.7" y1="88.3" x2="600.0" y2="88.3" stroke-width="1.4" />
<line x1="561.7" y1="160.0" x2="600.0" y2="160.0" stroke-width="1.4" />
<line x1="561.7" y1="165.0" x2="600.0" y2="165.0" stroke-width="1.2" />
<path d="M545.5,89.5 L551.5,86.5 L551.5,94 L545.5,96.5 Z" stroke-width="2.0" fill="none" />
<path d="M545.5,153.5 L551.5,156 L551.5,163.5 L545.5,160.5 Z" stroke-width="2.0" fill="none" />
<line x1="551.5" y1="96.0" x2="551.5" y2="154.0" stroke-width="1.6" />
<path d="M567.5,78 L567.5,76 Q567.5,74 572,74 L592,74 Q596,74 596,77 L596,84 Q582,86 567.5,82 Z" stroke-width="1.8" fill="#fff" />
<path d="M567.5,171 L567.5,173 Q567.5,175 572,175 L592,175 Q596,175 596,172 L596,166 Q582,164 567.5,168 Z" stroke-width="1.8" fill="#fff" />
<rect x="569.0" y="175.0" width="26.0" height="8.0" rx="0" stroke-width="1.8" fill="#fff" />
<line x1="574.0" y1="175.0" x2="574.0" y2="183.0" stroke-width="1.0" />
<line x1="590.0" y1="175.0" x2="590.0" y2="183.0" stroke-width="1.0" />
<path d="M568,184 L595.5,184 L595.5,195 L593,198.5 L570.5,198.5 L568,195 Z" stroke-width="1.8" fill="#fff" />
<line x1="573.5" y1="184.0" x2="573.5" y2="198.0" stroke-width="1.2" />
<line x1="581.8" y1="184.0" x2="581.8" y2="198.0" stroke-width="1.2" />
<line x1="590.0" y1="184.0" x2="590.0" y2="198.0" stroke-width="1.2" />
<rect x="601.5" y="28.7" width="146.8" height="190.8" rx="8" stroke-width="2.6" fill="#fff" />
<rect x="640.2" y="25.8" width="68.3" height="21.8" rx="0" stroke-width="2.2" fill="#fff" />
<line x1="643.9" y1="26.0" x2="643.9" y2="47.6" stroke-width="1.3" />
<line x1="705.2" y1="26.0" x2="705.2" y2="47.6" stroke-width="1.3" />
<rect x="640.2" y="201.0" width="68.3" height="21.5" rx="0" stroke-width="2.2" fill="#fff" />
<line x1="643.9" y1="201.0" x2="643.9" y2="222.5" stroke-width="1.3" />
<line x1="705.2" y1="201.0" x2="705.2" y2="222.5" stroke-width="1.3" />
<circle cx="628.2" cy="41.2" r="6.2" stroke-width="1.8" fill="#fff" />
<circle cx="721.6" cy="41.2" r="6.2" stroke-width="1.8" fill="#fff" />
<circle cx="628.2" cy="207.4" r="6.2" stroke-width="1.8" fill="#fff" />
<circle cx="721.6" cy="207.4" r="6.2" stroke-width="1.8" fill="#fff" />
<path d="M746.3,174.3 L745.6,193.0 L739.6,199.3 L724.2,199.5 L724.8,195.8 Z" stroke-width="3.0" fill="#fff" />
<path d="M746.3,75.7 L745.6,57.0 L739.6,50.7 L724.2,50.5 L724.8,54.2 Z" stroke-width="3.0" fill="#fff" />
<path d="M603.7,174.3 L604.4,193.0 L610.4,199.3 L625.8,199.5 L625.2,195.8 Z" stroke-width="3.0" fill="#fff" />
<path d="M603.7,75.7 L604.4,57.0 L610.4,50.7 L625.8,50.5 L625.2,54.2 Z" stroke-width="3.0" fill="#fff" />
<path d="M753.40,125.00 L753.27,133.78 L752.86,140.26 L752.19,146.05 L751.26,151.39 L750.05,156.38 L748.59,161.08 L746.86,165.51 L744.88,169.68 L742.64,173.62 L740.15,177.30 L737.40,180.75 L734.42,183.96 L731.18,186.93 L727.71,189.65 L723.99,192.12 L720.03,194.34 L715.82,196.31 L711.36,198.03 L706.62,199.48 L701.59,200.67 L696.21,201.60 L690.38,202.27 L683.85,202.67 L675.00,202.80 L666.15,202.67 L659.62,202.27 L653.79,201.60 L648.41,200.67 L643.38,199.48 L638.64,198.03 L634.18,196.31 L629.97,194.34 L626.01,192.12 L622.29,189.65 L618.82,186.93 L615.58,183.96 L612.60,180.75 L609.85,177.30 L607.36,173.62 L605.12,169.68 L603.14,165.51 L601.41,161.08 L599.95,156.38 L598.74,151.39 L597.81,146.05 L597.14,140.26 L596.73,133.78 L596.60,125.00 L596.73,116.22 L597.14,109.74 L597.81,103.95 L598.74,98.61 L599.95,93.62 L601.41,88.92 L603.14,84.49 L605.12,80.32 L607.36,76.38 L609.85,72.70 L612.60,69.25 L615.58,66.04 L618.82,63.07 L622.29,60.35 L626.01,57.88 L629.97,55.66 L634.18,53.69 L638.64,51.97 L643.38,50.52 L648.41,49.33 L653.79,48.40 L659.62,47.73 L666.15,47.33 L675.00,47.20 L683.85,47.33 L690.38,47.73 L696.21,48.40 L701.59,49.33 L706.62,50.52 L711.36,51.97 L715.82,53.69 L720.03,55.66 L723.99,57.88 L727.71,60.35 L731.18,63.07 L734.42,66.04 L737.40,69.25 L740.15,72.70 L742.64,76.38 L744.88,80.32 L746.86,84.49 L748.59,88.92 L750.05,93.62 L751.26,98.61 L752.19,103.95 L752.86,109.74 L753.27,116.22 Z" stroke-width="3.0" fill="#fff" />
<line x1="746.2" y1="175.2" x2="726.0" y2="196.0" stroke-width="1.6" />
<line x1="746.2" y1="74.8" x2="726.0" y2="54.0" stroke-width="1.6" />
<line x1="603.8" y1="175.2" x2="624.0" y2="196.0" stroke-width="1.6" />
<line x1="603.8" y1="74.8" x2="624.0" y2="54.0" stroke-width="1.6" />
<line x1="727.1" y1="174.0" x2="736.0" y2="182.8" stroke-width="1.2" />
<line x1="724.0" y1="177.1" x2="732.8" y2="186.0" stroke-width="1.2" />
<line x1="724.0" y1="72.9" x2="732.8" y2="64.0" stroke-width="1.2" />
<line x1="727.1" y1="76.0" x2="736.0" y2="67.2" stroke-width="1.2" />
<line x1="626.0" y1="177.1" x2="617.2" y2="186.0" stroke-width="1.2" />
<line x1="622.9" y1="174.0" x2="614.0" y2="182.8" stroke-width="1.2" />
<line x1="622.9" y1="76.0" x2="614.0" y2="67.2" stroke-width="1.2" />
<line x1="626.0" y1="72.9" x2="617.2" y2="64.0" stroke-width="1.2" />
<path d="M740.80,125.00 L740.69,133.08 L740.37,138.74 L739.83,143.72 L739.07,148.26 L738.10,152.48 L736.91,156.43 L735.52,160.13 L733.91,163.61 L732.09,166.87 L730.07,169.92 L727.84,172.76 L725.40,175.40 L722.76,177.84 L719.92,180.07 L716.87,182.09 L713.61,183.91 L710.13,185.52 L706.43,186.91 L702.48,188.10 L698.26,189.07 L693.72,189.83 L688.74,190.37 L683.08,190.69 L675.00,190.80 L666.92,190.69 L661.26,190.37 L656.28,189.83 L651.74,189.07 L647.52,188.10 L643.57,186.91 L639.87,185.52 L636.39,183.91 L633.13,182.09 L630.08,180.07 L627.24,177.84 L624.60,175.40 L622.16,172.76 L619.93,169.92 L617.91,166.87 L616.09,163.61 L614.48,160.13 L613.09,156.43 L611.90,152.48 L610.93,148.26 L610.17,143.72 L609.63,138.74 L609.31,133.08 L609.20,125.00 L609.31,116.92 L609.63,111.26 L610.17,106.28 L610.93,101.74 L611.90,97.52 L613.09,93.57 L614.48,89.87 L616.09,86.39 L617.91,83.13 L619.93,80.08 L622.16,77.24 L624.60,74.60 L627.24,72.16 L630.08,69.93 L633.13,67.91 L636.39,66.09 L639.87,64.48 L643.57,63.09 L647.52,61.90 L651.74,60.93 L656.28,60.17 L661.26,59.63 L666.92,59.31 L675.00,59.20 L683.08,59.31 L688.74,59.63 L693.72,60.17 L698.26,60.93 L702.48,61.90 L706.43,63.09 L710.13,64.48 L713.61,66.09 L716.87,67.91 L719.92,69.93 L722.76,72.16 L725.40,74.60 L727.84,77.24 L730.07,80.08 L732.09,83.13 L733.91,86.39 L735.52,89.87 L736.91,93.57 L738.10,97.52 L739.07,101.74 L739.83,106.28 L740.37,111.26 L740.69,116.92 Z" stroke-width="1.2" fill="#fff" />
<path d="M738.20,125.00 L738.10,132.76 L737.78,138.20 L737.26,142.98 L736.54,147.34 L735.60,151.40 L734.47,155.19 L733.12,158.74 L731.58,162.08 L729.84,165.21 L727.89,168.14 L725.75,170.87 L723.41,173.41 L720.87,175.75 L718.14,177.89 L715.21,179.84 L712.08,181.58 L708.74,183.12 L705.19,184.47 L701.40,185.60 L697.34,186.54 L692.98,187.26 L688.20,187.78 L682.76,188.10 L675.00,188.20 L667.24,188.10 L661.80,187.78 L657.02,187.26 L652.66,186.54 L648.60,185.60 L644.81,184.47 L641.26,183.12 L637.92,181.58 L634.79,179.84 L631.86,177.89 L629.13,175.75 L626.59,173.41 L624.25,170.87 L622.11,168.14 L620.16,165.21 L618.42,162.08 L616.88,158.74 L615.53,155.19 L614.40,151.40 L613.46,147.34 L612.74,142.98 L612.22,138.20 L611.90,132.76 L611.80,125.00 L611.90,117.24 L612.22,111.80 L612.74,107.02 L613.46,102.66 L614.40,98.60 L615.53,94.81 L616.88,91.26 L618.42,87.92 L620.16,84.79 L622.11,81.86 L624.25,79.13 L626.59,76.59 L629.13,74.25 L631.86,72.11 L634.79,70.16 L637.92,68.42 L641.26,66.88 L644.81,65.53 L648.60,64.40 L652.66,63.46 L657.02,62.74 L661.80,62.22 L667.24,61.90 L675.00,61.80 L682.76,61.90 L688.20,62.22 L692.98,62.74 L697.34,63.46 L701.40,64.40 L705.19,65.53 L708.74,66.88 L712.08,68.42 L715.21,70.16 L718.14,72.11 L720.87,74.25 L723.41,76.59 L725.75,79.13 L727.89,81.86 L729.84,84.79 L731.58,87.92 L733.12,91.26 L734.47,94.81 L735.60,98.60 L736.54,102.66 L737.26,107.02 L737.78,111.80 L738.10,117.24 Z" stroke-width="3.0" fill="none" />
<path d="M735.60,125.00 L735.50,132.44 L735.20,137.65 L734.70,142.24 L734.01,146.43 L733.11,150.31 L732.02,153.95 L730.73,157.35 L729.25,160.56 L727.58,163.56 L725.72,166.37 L723.66,168.99 L721.42,171.42 L718.99,173.66 L716.37,175.72 L713.56,177.58 L710.56,179.25 L707.35,180.73 L703.95,182.02 L700.31,183.11 L696.43,184.01 L692.24,184.70 L687.65,185.20 L682.44,185.50 L675.00,185.60 L667.56,185.50 L662.35,185.20 L657.76,184.70 L653.57,184.01 L649.69,183.11 L646.05,182.02 L642.65,180.73 L639.44,179.25 L636.44,177.58 L633.63,175.72 L631.01,173.66 L628.58,171.42 L626.34,168.99 L624.28,166.37 L622.42,163.56 L620.75,160.56 L619.27,157.35 L617.98,153.95 L616.89,150.31 L615.99,146.43 L615.30,142.24 L614.80,137.65 L614.50,132.44 L614.40,125.00 L614.50,117.56 L614.80,112.35 L615.30,107.76 L615.99,103.57 L616.89,99.69 L617.98,96.05 L619.27,92.65 L620.75,89.44 L622.42,86.44 L624.28,83.63 L626.34,81.01 L628.58,78.58 L631.01,76.34 L633.63,74.28 L636.44,72.42 L639.44,70.75 L642.65,69.27 L646.05,67.98 L649.69,66.89 L653.57,65.99 L657.76,65.30 L662.35,64.80 L667.56,64.50 L675.00,64.40 L682.44,64.50 L687.65,64.80 L692.24,65.30 L696.43,65.99 L700.31,66.89 L703.95,67.98 L707.35,69.27 L710.56,70.75 L713.56,72.42 L716.37,74.28 L718.99,76.34 L721.42,78.58 L723.66,81.01 L725.72,83.63 L727.58,86.44 L729.25,89.44 L730.73,92.65 L732.02,96.05 L733.11,99.69 L734.01,103.57 L734.70,107.76 L735.20,112.35 L735.50,117.56 Z" stroke-width="1.0" fill="none" />
<path d="M670.3,68.4 L668.2,68.4 L666.4,68.5 L664.8,68.5 L663.3,68.6 L661.9,68.6 L660.5,68.7 L659.3,68.8 L658.0,68.9 L656.8,69.0 L655.7,69.2 L654.6,69.3 L653.5,69.4 L652.5,69.6 L652.5,69.6 M645.6,71.2 L644.5,71.5 L643.4,71.9 L642.3,72.3 L641.3,72.7 L640.3,73.1 L639.3,73.6 L638.4,74.1 L637.4,74.6 L636.5,75.1 L635.6,75.6 L634.8,76.2 L634.0,76.8 L633.9,76.8 M679.7,68.4 L681.8,68.4 L683.6,68.5 L685.2,68.5 L686.7,68.6 L688.1,68.6 L689.5,68.7 L690.7,68.8 L692.0,68.9 L693.2,69.0 L694.3,69.2 L695.4,69.3 L696.5,69.4 L697.5,69.6 L697.5,69.6 M704.4,71.2 L705.5,71.5 L706.6,71.9 L707.7,72.3 L708.7,72.7 L709.7,73.1 L710.7,73.6 L711.6,74.1 L712.6,74.6 L713.5,75.1 L714.4,75.6 L715.2,76.2 L716.0,76.8 L716.1,76.8 M670.4,74.6 L668.6,74.6 L667.0,74.7 L665.6,74.7 L664.3,74.8 L663.0,74.8 L661.9,74.9 L660.7,75.0 L659.7,75.1 L658.6,75.2 L657.6,75.3 L656.6,75.4 L655.7,75.6 L655.6,75.6 M648.6,77.1 L647.7,77.4 L646.8,77.7 L645.9,78.1 L645.1,78.4 L644.2,78.7 L643.4,79.1 L642.7,79.5 L641.9,79.9 L641.1,80.3 L640.4,80.8 L639.7,81.2 L639.0,81.7 L638.9,81.7 M679.6,74.6 L681.4,74.6 L683.0,74.7 L684.4,74.7 L685.7,74.8 L687.0,74.8 L688.1,74.9 L689.3,75.0 L690.3,75.1 L691.4,75.2 L692.4,75.3 L693.4,75.4 L694.3,75.6 L694.4,75.6 M701.4,77.1 L702.3,77.4 L703.2,77.7 L704.1,78.1 L704.9,78.4 L705.8,78.7 L706.6,79.1 L707.3,79.5 L708.1,79.9 L708.9,80.3 L709.6,80.8 L710.3,81.2 L711.0,81.7 L711.1,81.7 M670.6,80.8 L666.8,80.9 L663.7,81.0 L661.0,81.3 L658.6,81.6 L656.4,81.9 L654.3,82.4 L652.4,82.9 L650.5,83.5 L648.8,84.1 L647.2,84.8 L645.7,85.6 L644.2,86.5 L643.8,86.7 M679.4,80.8 L683.2,80.9 L686.3,81.0 L689.0,81.3 L691.4,81.6 L693.6,81.9 L695.7,82.4 L697.6,82.9 L699.5,83.5 L701.2,84.1 L702.8,84.8 L704.3,85.6 L705.8,86.5 L706.2,86.7 M670.5,87.0 L667.5,87.1 L665.0,87.2 L662.8,87.4 L660.8,87.7 L659.0,88.0 L657.3,88.3 L655.7,88.7 L654.2,89.2 L652.7,89.7 L651.4,90.3 L650.1,91.0 L648.9,91.7 L648.8,91.7 M679.5,87.0 L682.5,87.1 L685.0,87.2 L687.2,87.4 L689.2,87.7 L691.0,88.0 L692.7,88.3 L694.3,88.7 L695.8,89.2 L697.3,89.7 L698.6,90.3 L699.9,91.0 L701.1,91.7 L701.2,91.7 M670.5,93.2 L668.3,93.3 L666.5,93.4 L664.8,93.6 L663.3,93.7 L661.9,94.0 L660.5,94.2 L659.3,94.5 L658.1,94.9 L657.0,95.3 L655.9,95.7 L654.9,96.2 L653.9,96.7 L653.8,96.7 M679.5,93.2 L681.7,93.3 L683.5,93.4 L685.2,93.6 L686.7,93.7 L688.1,94.0 L689.5,94.2 L690.7,94.5 L691.9,94.9 L693.0,95.3 L694.1,95.7 L695.1,96.2 L696.1,96.7 L696.2,96.7 M670.6,99.2 L669.2,99.3 L667.9,99.4 L666.7,99.5 L665.7,99.6 L664.6,99.8 L663.7,99.9 L662.8,100.1 L661.9,100.4 L661.1,100.6 L660.3,100.9 L659.6,101.2 L658.8,101.5 L658.6,101.6 M679.4,99.2 L680.8,99.3 L682.1,99.4 L683.3,99.5 L684.3,99.6 L685.4,99.8 L686.3,99.9 L687.2,100.1 L688.1,100.4 L688.9,100.6 L689.7,100.9 L690.4,101.2 L691.2,101.5 L691.4,101.6 M670.6,105.3 L669.8,105.3 L669.1,105.4 L668.4,105.4 L667.7,105.5 L667.1,105.6 L666.5,105.7 L666.0,105.8 L665.4,106.0 L664.9,106.1 L664.4,106.3 L664.0,106.4 L663.5,106.6 L663.5,106.6 M679.4,105.3 L680.2,105.3 L680.9,105.4 L681.6,105.4 L682.3,105.5 L682.9,105.6 L683.5,105.7 L684.0,105.8 L684.6,106.0 L685.1,106.1 L685.6,106.3 L686.0,106.4 L686.5,106.6 L686.5,106.6 M670.6,110.9 L670.4,111.0 L670.1,111.0 L669.9,111.0 L669.7,111.0 L669.5,111.1 L669.3,111.1 L669.1,111.1 L668.9,111.2 L668.7,111.2 L668.5,111.3 L668.4,111.3 L668.2,111.3 L668.1,111.4 M679.4,110.9 L679.6,111.0 L679.9,111.0 L680.1,111.0 L680.3,111.0 L680.5,111.1 L680.7,111.1 L680.9,111.1 L681.1,111.2 L681.3,111.2 L681.5,111.3 L681.6,111.3 L681.8,111.3 L681.9,111.4 M731.6,120.3 L731.6,118.2 L731.5,116.4 L731.5,114.8 L731.4,113.3 L731.4,111.9 L731.3,110.5 L731.2,109.3 L731.1,108.0 L731.0,106.8 L730.8,105.7 L730.7,104.6 L730.6,103.5 L730.4,102.5 L730.4,102.5 M728.8,95.6 L728.5,94.5 L728.1,93.4 L727.7,92.3 L727.3,91.3 L726.9,90.3 L726.4,89.3 L725.9,88.4 L725.4,87.4 L724.9,86.5 L724.4,85.6 L723.8,84.8 L723.2,84.0 L723.2,83.9 M731.6,129.7 L731.6,131.8 L731.5,133.6 L731.5,135.2 L731.4,136.7 L731.4,138.1 L731.3,139.5 L731.2,140.7 L731.1,142.0 L731.0,143.2 L730.8,144.3 L730.7,145.4 L730.6,146.5 L730.4,147.5 L730.4,147.5 M728.8,154.4 L728.5,155.5 L728.1,156.6 L727.7,157.7 L727.3,158.7 L726.9,159.7 L726.4,160.7 L725.9,161.6 L725.4,162.6 L724.9,163.5 L724.4,164.4 L723.8,165.2 L723.2,166.0 L723.2,166.1 M725.4,120.4 L725.4,118.6 L725.3,117.0 L725.3,115.6 L725.2,114.3 L725.2,113.0 L725.1,111.9 L725.0,110.7 L724.9,109.7 L724.8,108.6 L724.7,107.6 L724.6,106.6 L724.4,105.7 L724.4,105.6 M722.9,98.6 L722.6,97.7 L722.3,96.8 L721.9,95.9 L721.6,95.1 L721.3,94.2 L720.9,93.4 L720.5,92.7 L720.1,91.9 L719.7,91.1 L719.2,90.4 L718.8,89.7 L718.3,89.0 L718.3,88.9 M725.4,129.6 L725.4,131.4 L725.3,133.0 L725.3,134.4 L725.2,135.7 L725.2,137.0 L725.1,138.1 L725.0,139.3 L724.9,140.3 L724.8,141.4 L724.7,142.4 L724.6,143.4 L724.4,144.3 L724.4,144.4 M722.9,151.4 L722.6,152.3 L722.3,153.2 L721.9,154.1 L721.6,154.9 L721.3,155.8 L720.9,156.6 L720.5,157.3 L720.1,158.1 L719.7,158.9 L719.2,159.6 L718.8,160.3 L718.3,161.0 L718.3,161.1 M719.2,120.6 L719.1,116.8 L719.0,113.7 L718.7,111.0 L718.4,108.6 L718.1,106.4 L717.6,104.3 L717.1,102.4 L716.5,100.5 L715.9,98.8 L715.2,97.2 L714.4,95.7 L713.5,94.2 L713.3,93.8 M719.2,129.4 L719.1,133.2 L719.0,136.3 L718.7,139.0 L718.4,141.4 L718.1,143.6 L717.6,145.7 L717.1,147.6 L716.5,149.5 L715.9,151.2 L715.2,152.8 L714.4,154.3 L713.5,155.8 L713.3,156.2 M713.0,120.5 L712.9,117.5 L712.8,115.0 L712.6,112.8 L712.3,110.8 L712.0,109.0 L711.7,107.3 L711.3,105.7 L710.8,104.2 L710.3,102.7 L709.7,101.4 L709.0,100.1 L708.3,98.9 L708.3,98.8 M713.0,129.5 L712.9,132.5 L712.8,135.0 L712.6,137.2 L712.3,139.2 L712.0,141.0 L711.7,142.7 L711.3,144.3 L710.8,145.8 L710.3,147.3 L709.7,148.6 L709.0,149.9 L708.3,151.1 L708.3,151.2 M706.8,120.5 L706.7,118.3 L706.6,116.5 L706.4,114.8 L706.3,113.3 L706.0,111.9 L705.8,110.5 L705.5,109.3 L705.1,108.1 L704.7,107.0 L704.3,105.9 L703.8,104.9 L703.3,103.9 L703.3,103.8 M706.8,129.5 L706.7,131.7 L706.6,133.5 L706.4,135.2 L706.3,136.7 L706.0,138.1 L705.8,139.5 L705.5,140.7 L705.1,141.9 L704.7,143.0 L704.3,144.1 L703.8,145.1 L703.3,146.1 L703.3,146.2 M700.8,120.6 L700.7,119.2 L700.6,117.9 L700.5,116.7 L700.4,115.7 L700.2,114.6 L700.1,113.7 L699.9,112.8 L699.6,111.9 L699.4,111.1 L699.1,110.3 L698.8,109.6 L698.5,108.8 L698.4,108.6 M700.8,129.4 L700.7,130.8 L700.6,132.1 L700.5,133.3 L700.4,134.3 L700.2,135.4 L700.1,136.3 L699.9,137.2 L699.6,138.1 L699.4,138.9 L699.1,139.7 L698.8,140.4 L698.5,141.2 L698.4,141.4 M694.7,120.6 L694.7,119.8 L694.6,119.1 L694.6,118.4 L694.5,117.7 L694.4,117.1 L694.3,116.5 L694.2,116.0 L694.0,115.4 L693.9,114.9 L693.7,114.4 L693.6,114.0 L693.4,113.5 L693.4,113.5 M694.7,129.4 L694.7,130.2 L694.6,130.9 L694.6,131.6 L694.5,132.3 L694.4,132.9 L694.3,133.5 L694.2,134.0 L694.0,134.6 L693.9,135.1 L693.7,135.6 L693.6,136.0 L693.4,136.5 L693.4,136.5 M689.1,120.6 L689.0,120.4 L689.0,120.1 L689.0,119.9 L689.0,119.7 L688.9,119.5 L688.9,119.3 L688.9,119.1 L688.8,118.9 L688.8,118.7 L688.7,118.5 L688.7,118.4 L688.7,118.2 L688.6,118.1 M689.1,129.4 L689.0,129.6 L689.0,129.9 L689.0,130.1 L689.0,130.3 L688.9,130.5 L688.9,130.7 L688.9,130.9 L688.8,131.1 L688.8,131.3 L688.7,131.5 L688.7,131.6 L688.7,131.8 L688.6,131.9 M679.7,181.6 L681.8,181.6 L683.6,181.5 L685.2,181.5 L686.7,181.4 L688.1,181.4 L689.5,181.3 L690.7,181.2 L692.0,181.1 L693.2,181.0 L694.3,180.8 L695.4,180.7 L696.5,180.6 L697.5,180.4 L697.5,180.4 M704.4,178.8 L705.5,178.5 L706.6,178.1 L707.7,177.7 L708.7,177.3 L709.7,176.9 L710.7,176.4 L711.6,175.9 L712.6,175.4 L713.5,174.9 L714.4,174.4 L715.2,173.8 L716.0,173.2 L716.1,173.2 M670.3,181.6 L668.2,181.6 L666.4,181.5 L664.8,181.5 L663.3,181.4 L661.9,181.4 L660.5,181.3 L659.3,181.2 L658.0,181.1 L656.8,181.0 L655.7,180.8 L654.6,180.7 L653.5,180.6 L652.5,180.4 L652.5,180.4 M645.6,178.8 L644.5,178.5 L643.4,178.1 L642.3,177.7 L641.3,177.3 L640.3,176.9 L639.3,176.4 L638.4,175.9 L637.4,175.4 L636.5,174.9 L635.6,174.4 L634.8,173.8 L634.0,173.2 L633.9,173.2 M679.6,175.4 L681.4,175.4 L683.0,175.3 L684.4,175.3 L685.7,175.2 L687.0,175.2 L688.1,175.1 L689.3,175.0 L690.3,174.9 L691.4,174.8 L692.4,174.7 L693.4,174.6 L694.3,174.4 L694.4,174.4 M701.4,172.9 L702.3,172.6 L703.2,172.3 L704.1,171.9 L704.9,171.6 L705.8,171.3 L706.6,170.9 L707.3,170.5 L708.1,170.1 L708.9,169.7 L709.6,169.2 L710.3,168.8 L711.0,168.3 L711.1,168.3 M670.4,175.4 L668.6,175.4 L667.0,175.3 L665.6,175.3 L664.3,175.2 L663.0,175.2 L661.9,175.1 L660.7,175.0 L659.7,174.9 L658.6,174.8 L657.6,174.7 L656.6,174.6 L655.7,174.4 L655.6,174.4 M648.6,172.9 L647.7,172.6 L646.8,172.3 L645.9,171.9 L645.1,171.6 L644.2,171.3 L643.4,170.9 L642.7,170.5 L641.9,170.1 L641.1,169.7 L640.4,169.2 L639.7,168.8 L639.0,168.3 L638.9,168.3 M679.4,169.2 L683.2,169.1 L686.3,169.0 L689.0,168.7 L691.4,168.4 L693.6,168.1 L695.7,167.6 L697.6,167.1 L699.5,166.5 L701.2,165.9 L702.8,165.2 L704.3,164.4 L705.8,163.5 L706.2,163.3 M670.6,169.2 L666.8,169.1 L663.7,169.0 L661.0,168.7 L658.6,168.4 L656.4,168.1 L654.3,167.6 L652.4,167.1 L650.5,166.5 L648.8,165.9 L647.2,165.2 L645.7,164.4 L644.2,163.5 L643.8,163.3 M679.5,163.0 L682.5,162.9 L685.0,162.8 L687.2,162.6 L689.2,162.3 L691.0,162.0 L692.7,161.7 L694.3,161.3 L695.8,160.8 L697.3,160.3 L698.6,159.7 L699.9,159.0 L701.1,158.3 L701.2,158.3 M670.5,163.0 L667.5,162.9 L665.0,162.8 L662.8,162.6 L660.8,162.3 L659.0,162.0 L657.3,161.7 L655.7,161.3 L654.2,160.8 L652.7,160.3 L651.4,159.7 L650.1,159.0 L648.9,158.3 L648.8,158.3 M679.5,156.8 L681.7,156.7 L683.5,156.6 L685.2,156.4 L686.7,156.3 L688.1,156.0 L689.5,155.8 L690.7,155.5 L691.9,155.1 L693.0,154.7 L694.1,154.3 L695.1,153.8 L696.1,153.3 L696.2,153.3 M670.5,156.8 L668.3,156.7 L666.5,156.6 L664.8,156.4 L663.3,156.3 L661.9,156.0 L660.5,155.8 L659.3,155.5 L658.1,155.1 L657.0,154.7 L655.9,154.3 L654.9,153.8 L653.9,153.3 L653.8,153.3 M679.4,150.8 L680.8,150.7 L682.1,150.6 L683.3,150.5 L684.3,150.4 L685.4,150.2 L686.3,150.1 L687.2,149.9 L688.1,149.6 L688.9,149.4 L689.7,149.1 L690.4,148.8 L691.2,148.5 L691.4,148.4 M670.6,150.8 L669.2,150.7 L667.9,150.6 L666.7,150.5 L665.7,150.4 L664.6,150.2 L663.7,150.1 L662.8,149.9 L661.9,149.6 L661.1,149.4 L660.3,149.1 L659.6,148.8 L658.8,148.5 L658.6,148.4 M679.4,144.7 L680.2,144.7 L680.9,144.6 L681.6,144.6 L682.3,144.5 L682.9,144.4 L683.5,144.3 L684.0,144.2 L684.6,144.0 L685.1,143.9 L685.6,143.7 L686.0,143.6 L686.5,143.4 L686.5,143.4 M670.6,144.7 L669.8,144.7 L669.1,144.6 L668.4,144.6 L667.7,144.5 L667.1,144.4 L666.5,144.3 L666.0,144.2 L665.4,144.0 L664.9,143.9 L664.4,143.7 L664.0,143.6 L663.5,143.4 L663.5,143.4 M679.4,139.1 L679.6,139.0 L679.9,139.0 L680.1,139.0 L680.3,139.0 L680.5,138.9 L680.7,138.9 L680.9,138.9 L681.1,138.8 L681.3,138.8 L681.5,138.7 L681.6,138.7 L681.8,138.7 L681.9,138.6 M670.6,139.1 L670.4,139.0 L670.1,139.0 L669.9,139.0 L669.7,139.0 L669.5,138.9 L669.3,138.9 L669.1,138.9 L668.9,138.8 L668.7,138.8 L668.5,138.7 L668.4,138.7 L668.2,138.7 L668.1,138.6 M618.4,129.7 L618.4,131.8 L618.5,133.6 L618.5,135.2 L618.6,136.7 L618.6,138.1 L618.7,139.5 L618.8,140.7 L618.9,142.0 L619.0,143.2 L619.2,144.3 L619.3,145.4 L619.4,146.5 L619.6,147.5 L619.6,147.5 M621.2,154.4 L621.5,155.5 L621.9,156.6 L622.3,157.7 L622.7,158.7 L623.1,159.7 L623.6,160.7 L624.1,161.6 L624.6,162.6 L625.1,163.5 L625.6,164.4 L626.2,165.2 L626.8,166.0 L626.8,166.1 M618.4,120.3 L618.4,118.2 L618.5,116.4 L618.5,114.8 L618.6,113.3 L618.6,111.9 L618.7,110.5 L618.8,109.3 L618.9,108.0 L619.0,106.8 L619.2,105.7 L619.3,104.6 L619.4,103.5 L619.6,102.5 L619.6,102.5 M621.2,95.6 L621.5,94.5 L621.9,93.4 L622.3,92.3 L622.7,91.3 L623.1,90.3 L623.6,89.3 L624.1,88.4 L624.6,87.4 L625.1,86.5 L625.6,85.6 L626.2,84.8 L626.8,84.0 L626.8,83.9 M624.6,129.6 L624.6,131.4 L624.7,133.0 L624.7,134.4 L624.8,135.7 L624.8,137.0 L624.9,138.1 L625.0,139.3 L625.1,140.3 L625.2,141.4 L625.3,142.4 L625.4,143.4 L625.6,144.3 L625.6,144.4 M627.1,151.4 L627.4,152.3 L627.7,153.2 L628.1,154.1 L628.4,154.9 L628.7,155.8 L629.1,156.6 L629.5,157.3 L629.9,158.1 L630.3,158.9 L630.8,159.6 L631.2,160.3 L631.7,161.0 L631.7,161.1 M624.6,120.4 L624.6,118.6 L624.7,117.0 L624.7,115.6 L624.8,114.3 L624.8,113.0 L624.9,111.9 L625.0,110.7 L625.1,109.7 L625.2,108.6 L625.3,107.6 L625.4,106.6 L625.6,105.7 L625.6,105.6 M627.1,98.6 L627.4,97.7 L627.7,96.8 L628.1,95.9 L628.4,95.1 L628.7,94.2 L629.1,93.4 L629.5,92.7 L629.9,91.9 L630.3,91.1 L630.8,90.4 L631.2,89.7 L631.7,89.0 L631.7,88.9 M630.8,129.4 L630.9,133.2 L631.0,136.3 L631.3,139.0 L631.6,141.4 L631.9,143.6 L632.4,145.7 L632.9,147.6 L633.5,149.5 L634.1,151.2 L634.8,152.8 L635.6,154.3 L636.5,155.8 L636.7,156.2 M630.8,120.6 L630.9,116.8 L631.0,113.7 L631.3,111.0 L631.6,108.6 L631.9,106.4 L632.4,104.3 L632.9,102.4 L633.5,100.5 L634.1,98.8 L634.8,97.2 L635.6,95.7 L636.5,94.2 L636.7,93.8 M637.0,129.5 L637.1,132.5 L637.2,135.0 L637.4,137.2 L637.7,139.2 L638.0,141.0 L638.3,142.7 L638.7,144.3 L639.2,145.8 L639.7,147.3 L640.3,148.6 L641.0,149.9 L641.7,151.1 L641.7,151.2 M637.0,120.5 L637.1,117.5 L637.2,115.0 L637.4,112.8 L637.7,110.8 L638.0,109.0 L638.3,107.3 L638.7,105.7 L639.2,104.2 L639.7,102.7 L640.3,101.4 L641.0,100.1 L641.7,98.9 L641.7,98.8 M643.2,129.5 L643.3,131.7 L643.4,133.5 L643.6,135.2 L643.7,136.7 L644.0,138.1 L644.2,139.5 L644.5,140.7 L644.9,141.9 L645.3,143.0 L645.7,144.1 L646.2,145.1 L646.7,146.1 L646.7,146.2 M643.2,120.5 L643.3,118.3 L643.4,116.5 L643.6,114.8 L643.7,113.3 L644.0,111.9 L644.2,110.5 L644.5,109.3 L644.9,108.1 L645.3,107.0 L645.7,105.9 L646.2,104.9 L646.7,103.9 L646.7,103.8 M649.2,129.4 L649.3,130.8 L649.4,132.1 L649.5,133.3 L649.6,134.3 L649.8,135.4 L649.9,136.3 L650.1,137.2 L650.4,138.1 L650.6,138.9 L650.9,139.7 L651.2,140.4 L651.5,141.2 L651.6,141.4 M649.2,120.6 L649.3,119.2 L649.4,117.9 L649.5,116.7 L649.6,115.7 L649.8,114.6 L649.9,113.7 L650.1,112.8 L650.4,111.9 L650.6,111.1 L650.9,110.3 L651.2,109.6 L651.5,108.8 L651.6,108.6 M655.3,129.4 L655.3,130.2 L655.4,130.9 L655.4,131.6 L655.5,132.3 L655.6,132.9 L655.7,133.5 L655.8,134.0 L656.0,134.6 L656.1,135.1 L656.3,135.6 L656.4,136.0 L656.6,136.5 L656.6,136.5 M655.3,120.6 L655.3,119.8 L655.4,119.1 L655.4,118.4 L655.5,117.7 L655.6,117.1 L655.7,116.5 L655.8,116.0 L656.0,115.4 L656.1,114.9 L656.3,114.4 L656.4,114.0 L656.6,113.5 L656.6,113.5 M660.9,129.4 L661.0,129.6 L661.0,129.9 L661.0,130.1 L661.0,130.3 L661.1,130.5 L661.1,130.7 L661.1,130.9 L661.2,131.1 L661.2,131.3 L661.3,131.5 L661.3,131.6 L661.3,131.8 L661.4,131.9 M660.9,120.6 L661.0,120.4 L661.0,120.1 L661.0,119.9 L661.0,119.7 L661.1,119.5 L661.1,119.3 L661.1,119.1 L661.2,118.9 L661.2,118.7 L661.3,118.5 L661.3,118.4 L661.3,118.2 L661.4,118.1" stroke-width="4.8" stroke-linecap="round" stroke-linejoin="round"/>
<path d="M670.3,68.4 L668.2,68.4 L666.4,68.5 L664.8,68.5 L663.3,68.6 L661.9,68.6 L660.5,68.7 L659.3,68.8 L658.0,68.9 L656.8,69.0 L655.7,69.2 L654.6,69.3 L653.5,69.4 L652.5,69.6 L652.5,69.6 M645.6,71.2 L644.5,71.5 L643.4,71.9 L642.3,72.3 L641.3,72.7 L640.3,73.1 L639.3,73.6 L638.4,74.1 L637.4,74.6 L636.5,75.1 L635.6,75.6 L634.8,76.2 L634.0,76.8 L633.9,76.8 M679.7,68.4 L681.8,68.4 L683.6,68.5 L685.2,68.5 L686.7,68.6 L688.1,68.6 L689.5,68.7 L690.7,68.8 L692.0,68.9 L693.2,69.0 L694.3,69.2 L695.4,69.3 L696.5,69.4 L697.5,69.6 L697.5,69.6 M704.4,71.2 L705.5,71.5 L706.6,71.9 L707.7,72.3 L708.7,72.7 L709.7,73.1 L710.7,73.6 L711.6,74.1 L712.6,74.6 L713.5,75.1 L714.4,75.6 L715.2,76.2 L716.0,76.8 L716.1,76.8 M670.4,74.6 L668.6,74.6 L667.0,74.7 L665.6,74.7 L664.3,74.8 L663.0,74.8 L661.9,74.9 L660.7,75.0 L659.7,75.1 L658.6,75.2 L657.6,75.3 L656.6,75.4 L655.7,75.6 L655.6,75.6 M648.6,77.1 L647.7,77.4 L646.8,77.7 L645.9,78.1 L645.1,78.4 L644.2,78.7 L643.4,79.1 L642.7,79.5 L641.9,79.9 L641.1,80.3 L640.4,80.8 L639.7,81.2 L639.0,81.7 L638.9,81.7 M679.6,74.6 L681.4,74.6 L683.0,74.7 L684.4,74.7 L685.7,74.8 L687.0,74.8 L688.1,74.9 L689.3,75.0 L690.3,75.1 L691.4,75.2 L692.4,75.3 L693.4,75.4 L694.3,75.6 L694.4,75.6 M701.4,77.1 L702.3,77.4 L703.2,77.7 L704.1,78.1 L704.9,78.4 L705.8,78.7 L706.6,79.1 L707.3,79.5 L708.1,79.9 L708.9,80.3 L709.6,80.8 L710.3,81.2 L711.0,81.7 L711.1,81.7 M670.6,80.8 L666.8,80.9 L663.7,81.0 L661.0,81.3 L658.6,81.6 L656.4,81.9 L654.3,82.4 L652.4,82.9 L650.5,83.5 L648.8,84.1 L647.2,84.8 L645.7,85.6 L644.2,86.5 L643.8,86.7 M679.4,80.8 L683.2,80.9 L686.3,81.0 L689.0,81.3 L691.4,81.6 L693.6,81.9 L695.7,82.4 L697.6,82.9 L699.5,83.5 L701.2,84.1 L702.8,84.8 L704.3,85.6 L705.8,86.5 L706.2,86.7 M670.5,93.2 L668.3,93.3 L666.5,93.4 L664.8,93.6 L663.3,93.7 L661.9,94.0 L660.5,94.2 L659.3,94.5 L658.1,94.9 L657.0,95.3 L655.9,95.7 L654.9,96.2 L653.9,96.7 L653.8,96.7 M679.5,93.2 L681.7,93.3 L683.5,93.4 L685.2,93.6 L686.7,93.7 L688.1,94.0 L689.5,94.2 L690.7,94.5 L691.9,94.9 L693.0,95.3 L694.1,95.7 L695.1,96.2 L696.1,96.7 L696.2,96.7 M670.6,99.2 L669.2,99.3 L667.9,99.4 L666.7,99.5 L665.7,99.6 L664.6,99.8 L663.7,99.9 L662.8,100.1 L661.9,100.4 L661.1,100.6 L660.3,100.9 L659.6,101.2 L658.8,101.5 L658.6,101.6 M679.4,99.2 L680.8,99.3 L682.1,99.4 L683.3,99.5 L684.3,99.6 L685.4,99.8 L686.3,99.9 L687.2,100.1 L688.1,100.4 L688.9,100.6 L689.7,100.9 L690.4,101.2 L691.2,101.5 L691.4,101.6 M670.6,105.3 L669.8,105.3 L669.1,105.4 L668.4,105.4 L667.7,105.5 L667.1,105.6 L666.5,105.7 L666.0,105.8 L665.4,106.0 L664.9,106.1 L664.4,106.3 L664.0,106.4 L663.5,106.6 L663.5,106.6 M679.4,105.3 L680.2,105.3 L680.9,105.4 L681.6,105.4 L682.3,105.5 L682.9,105.6 L683.5,105.7 L684.0,105.8 L684.6,106.0 L685.1,106.1 L685.6,106.3 L686.0,106.4 L686.5,106.6 L686.5,106.6 M670.6,110.9 L670.4,111.0 L670.1,111.0 L669.9,111.0 L669.7,111.0 L669.5,111.1 L669.3,111.1 L669.1,111.1 L668.9,111.2 L668.7,111.2 L668.5,111.3 L668.4,111.3 L668.2,111.3 L668.1,111.4 M679.4,110.9 L679.6,111.0 L679.9,111.0 L680.1,111.0 L680.3,111.0 L680.5,111.1 L680.7,111.1 L680.9,111.1 L681.1,111.2 L681.3,111.2 L681.5,111.3 L681.6,111.3 L681.8,111.3 L681.9,111.4 M731.6,120.3 L731.6,118.2 L731.5,116.4 L731.5,114.8 L731.4,113.3 L731.4,111.9 L731.3,110.5 L731.2,109.3 L731.1,108.0 L731.0,106.8 L730.8,105.7 L730.7,104.6 L730.6,103.5 L730.4,102.5 L730.4,102.5 M728.8,95.6 L728.5,94.5 L728.1,93.4 L727.7,92.3 L727.3,91.3 L726.9,90.3 L726.4,89.3 L725.9,88.4 L725.4,87.4 L724.9,86.5 L724.4,85.6 L723.8,84.8 L723.2,84.0 L723.2,83.9 M731.6,129.7 L731.6,131.8 L731.5,133.6 L731.5,135.2 L731.4,136.7 L731.4,138.1 L731.3,139.5 L731.2,140.7 L731.1,142.0 L731.0,143.2 L730.8,144.3 L730.7,145.4 L730.6,146.5 L730.4,147.5 L730.4,147.5 M728.8,154.4 L728.5,155.5 L728.1,156.6 L727.7,157.7 L727.3,158.7 L726.9,159.7 L726.4,160.7 L725.9,161.6 L725.4,162.6 L724.9,163.5 L724.4,164.4 L723.8,165.2 L723.2,166.0 L723.2,166.1 M725.4,120.4 L725.4,118.6 L725.3,117.0 L725.3,115.6 L725.2,114.3 L725.2,113.0 L725.1,111.9 L725.0,110.7 L724.9,109.7 L724.8,108.6 L724.7,107.6 L724.6,106.6 L724.4,105.7 L724.4,105.6 M722.9,98.6 L722.6,97.7 L722.3,96.8 L721.9,95.9 L721.6,95.1 L721.3,94.2 L720.9,93.4 L720.5,92.7 L720.1,91.9 L719.7,91.1 L719.2,90.4 L718.8,89.7 L718.3,89.0 L718.3,88.9 M725.4,129.6 L725.4,131.4 L725.3,133.0 L725.3,134.4 L725.2,135.7 L725.2,137.0 L725.1,138.1 L725.0,139.3 L724.9,140.3 L724.8,141.4 L724.7,142.4 L724.6,143.4 L724.4,144.3 L724.4,144.4 M722.9,151.4 L722.6,152.3 L722.3,153.2 L721.9,154.1 L721.6,154.9 L721.3,155.8 L720.9,156.6 L720.5,157.3 L720.1,158.1 L719.7,158.9 L719.2,159.6 L718.8,160.3 L718.3,161.0 L718.3,161.1 M719.2,120.6 L719.1,116.8 L719.0,113.7 L718.7,111.0 L718.4,108.6 L718.1,106.4 L717.6,104.3 L717.1,102.4 L716.5,100.5 L715.9,98.8 L715.2,97.2 L714.4,95.7 L713.5,94.2 L713.3,93.8 M719.2,129.4 L719.1,133.2 L719.0,136.3 L718.7,139.0 L718.4,141.4 L718.1,143.6 L717.6,145.7 L717.1,147.6 L716.5,149.5 L715.9,151.2 L715.2,152.8 L714.4,154.3 L713.5,155.8 L713.3,156.2 M706.8,120.5 L706.7,118.3 L706.6,116.5 L706.4,114.8 L706.3,113.3 L706.0,111.9 L705.8,110.5 L705.5,109.3 L705.1,108.1 L704.7,107.0 L704.3,105.9 L703.8,104.9 L703.3,103.9 L703.3,103.8 M706.8,129.5 L706.7,131.7 L706.6,133.5 L706.4,135.2 L706.3,136.7 L706.0,138.1 L705.8,139.5 L705.5,140.7 L705.1,141.9 L704.7,143.0 L704.3,144.1 L703.8,145.1 L703.3,146.1 L703.3,146.2 M700.8,120.6 L700.7,119.2 L700.6,117.9 L700.5,116.7 L700.4,115.7 L700.2,114.6 L700.1,113.7 L699.9,112.8 L699.6,111.9 L699.4,111.1 L699.1,110.3 L698.8,109.6 L698.5,108.8 L698.4,108.6 M700.8,129.4 L700.7,130.8 L700.6,132.1 L700.5,133.3 L700.4,134.3 L700.2,135.4 L700.1,136.3 L699.9,137.2 L699.6,138.1 L699.4,138.9 L699.1,139.7 L698.8,140.4 L698.5,141.2 L698.4,141.4 M694.7,120.6 L694.7,119.8 L694.6,119.1 L694.6,118.4 L694.5,117.7 L694.4,117.1 L694.3,116.5 L694.2,116.0 L694.0,115.4 L693.9,114.9 L693.7,114.4 L693.6,114.0 L693.4,113.5 L693.4,113.5 M694.7,129.4 L694.7,130.2 L694.6,130.9 L694.6,131.6 L694.5,132.3 L694.4,132.9 L694.3,133.5 L694.2,134.0 L694.0,134.6 L693.9,135.1 L693.7,135.6 L693.6,136.0 L693.4,136.5 L693.4,136.5 M689.1,120.6 L689.0,120.4 L689.0,120.1 L689.0,119.9 L689.0,119.7 L688.9,119.5 L688.9,119.3 L688.9,119.1 L688.8,118.9 L688.8,118.7 L688.7,118.5 L688.7,118.4 L688.7,118.2 L688.6,118.1 M689.1,129.4 L689.0,129.6 L689.0,129.9 L689.0,130.1 L689.0,130.3 L688.9,130.5 L688.9,130.7 L688.9,130.9 L688.8,131.1 L688.8,131.3 L688.7,131.5 L688.7,131.6 L688.7,131.8 L688.6,131.9 M679.7,181.6 L681.8,181.6 L683.6,181.5 L685.2,181.5 L686.7,181.4 L688.1,181.4 L689.5,181.3 L690.7,181.2 L692.0,181.1 L693.2,181.0 L694.3,180.8 L695.4,180.7 L696.5,180.6 L697.5,180.4 L697.5,180.4 M704.4,178.8 L705.5,178.5 L706.6,178.1 L707.7,177.7 L708.7,177.3 L709.7,176.9 L710.7,176.4 L711.6,175.9 L712.6,175.4 L713.5,174.9 L714.4,174.4 L715.2,173.8 L716.0,173.2 L716.1,173.2 M670.3,181.6 L668.2,181.6 L666.4,181.5 L664.8,181.5 L663.3,181.4 L661.9,181.4 L660.5,181.3 L659.3,181.2 L658.0,181.1 L656.8,181.0 L655.7,180.8 L654.6,180.7 L653.5,180.6 L652.5,180.4 L652.5,180.4 M645.6,178.8 L644.5,178.5 L643.4,178.1 L642.3,177.7 L641.3,177.3 L640.3,176.9 L639.3,176.4 L638.4,175.9 L637.4,175.4 L636.5,174.9 L635.6,174.4 L634.8,173.8 L634.0,173.2 L633.9,173.2 M679.6,175.4 L681.4,175.4 L683.0,175.3 L684.4,175.3 L685.7,175.2 L687.0,175.2 L688.1,175.1 L689.3,175.0 L690.3,174.9 L691.4,174.8 L692.4,174.7 L693.4,174.6 L694.3,174.4 L694.4,174.4 M701.4,172.9 L702.3,172.6 L703.2,172.3 L704.1,171.9 L704.9,171.6 L705.8,171.3 L706.6,170.9 L707.3,170.5 L708.1,170.1 L708.9,169.7 L709.6,169.2 L710.3,168.8 L711.0,168.3 L711.1,168.3 M670.4,175.4 L668.6,175.4 L667.0,175.3 L665.6,175.3 L664.3,175.2 L663.0,175.2 L661.9,175.1 L660.7,175.0 L659.7,174.9 L658.6,174.8 L657.6,174.7 L656.6,174.6 L655.7,174.4 L655.6,174.4 M648.6,172.9 L647.7,172.6 L646.8,172.3 L645.9,171.9 L645.1,171.6 L644.2,171.3 L643.4,170.9 L642.7,170.5 L641.9,170.1 L641.1,169.7 L640.4,169.2 L639.7,168.8 L639.0,168.3 L638.9,168.3 M679.4,169.2 L683.2,169.1 L686.3,169.0 L689.0,168.7 L691.4,168.4 L693.6,168.1 L695.7,167.6 L697.6,167.1 L699.5,166.5 L701.2,165.9 L702.8,165.2 L704.3,164.4 L705.8,163.5 L706.2,163.3 M670.6,169.2 L666.8,169.1 L663.7,169.0 L661.0,168.7 L658.6,168.4 L656.4,168.1 L654.3,167.6 L652.4,167.1 L650.5,166.5 L648.8,165.9 L647.2,165.2 L645.7,164.4 L644.2,163.5 L643.8,163.3 M679.5,156.8 L681.7,156.7 L683.5,156.6 L685.2,156.4 L686.7,156.3 L688.1,156.0 L689.5,155.8 L690.7,155.5 L691.9,155.1 L693.0,154.7 L694.1,154.3 L695.1,153.8 L696.1,153.3 L696.2,153.3 M670.5,156.8 L668.3,156.7 L666.5,156.6 L664.8,156.4 L663.3,156.3 L661.9,156.0 L660.5,155.8 L659.3,155.5 L658.1,155.1 L657.0,154.7 L655.9,154.3 L654.9,153.8 L653.9,153.3 L653.8,153.3 M679.4,150.8 L680.8,150.7 L682.1,150.6 L683.3,150.5 L684.3,150.4 L685.4,150.2 L686.3,150.1 L687.2,149.9 L688.1,149.6 L688.9,149.4 L689.7,149.1 L690.4,148.8 L691.2,148.5 L691.4,148.4 M670.6,150.8 L669.2,150.7 L667.9,150.6 L666.7,150.5 L665.7,150.4 L664.6,150.2 L663.7,150.1 L662.8,149.9 L661.9,149.6 L661.1,149.4 L660.3,149.1 L659.6,148.8 L658.8,148.5 L658.6,148.4 M679.4,144.7 L680.2,144.7 L680.9,144.6 L681.6,144.6 L682.3,144.5 L682.9,144.4 L683.5,144.3 L684.0,144.2 L684.6,144.0 L685.1,143.9 L685.6,143.7 L686.0,143.6 L686.5,143.4 L686.5,143.4 M670.6,144.7 L669.8,144.7 L669.1,144.6 L668.4,144.6 L667.7,144.5 L667.1,144.4 L666.5,144.3 L666.0,144.2 L665.4,144.0 L664.9,143.9 L664.4,143.7 L664.0,143.6 L663.5,143.4 L663.5,143.4 M679.4,139.1 L679.6,139.0 L679.9,139.0 L680.1,139.0 L680.3,139.0 L680.5,138.9 L680.7,138.9 L680.9,138.9 L681.1,138.8 L681.3,138.8 L681.5,138.7 L681.6,138.7 L681.8,138.7 L681.9,138.6 M670.6,139.1 L670.4,139.0 L670.1,139.0 L669.9,139.0 L669.7,139.0 L669.5,138.9 L669.3,138.9 L669.1,138.9 L668.9,138.8 L668.7,138.8 L668.5,138.7 L668.4,138.7 L668.2,138.7 L668.1,138.6 M618.4,129.7 L618.4,131.8 L618.5,133.6 L618.5,135.2 L618.6,136.7 L618.6,138.1 L618.7,139.5 L618.8,140.7 L618.9,142.0 L619.0,143.2 L619.2,144.3 L619.3,145.4 L619.4,146.5 L619.6,147.5 L619.6,147.5 M621.2,154.4 L621.5,155.5 L621.9,156.6 L622.3,157.7 L622.7,158.7 L623.1,159.7 L623.6,160.7 L624.1,161.6 L624.6,162.6 L625.1,163.5 L625.6,164.4 L626.2,165.2 L626.8,166.0 L626.8,166.1 M618.4,120.3 L618.4,118.2 L618.5,116.4 L618.5,114.8 L618.6,113.3 L618.6,111.9 L618.7,110.5 L618.8,109.3 L618.9,108.0 L619.0,106.8 L619.2,105.7 L619.3,104.6 L619.4,103.5 L619.6,102.5 L619.6,102.5 M621.2,95.6 L621.5,94.5 L621.9,93.4 L622.3,92.3 L622.7,91.3 L623.1,90.3 L623.6,89.3 L624.1,88.4 L624.6,87.4 L625.1,86.5 L625.6,85.6 L626.2,84.8 L626.8,84.0 L626.8,83.9 M624.6,129.6 L624.6,131.4 L624.7,133.0 L624.7,134.4 L624.8,135.7 L624.8,137.0 L624.9,138.1 L625.0,139.3 L625.1,140.3 L625.2,141.4 L625.3,142.4 L625.4,143.4 L625.6,144.3 L625.6,144.4 M627.1,151.4 L627.4,152.3 L627.7,153.2 L628.1,154.1 L628.4,154.9 L628.7,155.8 L629.1,156.6 L629.5,157.3 L629.9,158.1 L630.3,158.9 L630.8,159.6 L631.2,160.3 L631.7,161.0 L631.7,161.1 M624.6,120.4 L624.6,118.6 L624.7,117.0 L624.7,115.6 L624.8,114.3 L624.8,113.0 L624.9,111.9 L625.0,110.7 L625.1,109.7 L625.2,108.6 L625.3,107.6 L625.4,106.6 L625.6,105.7 L625.6,105.6 M627.1,98.6 L627.4,97.7 L627.7,96.8 L628.1,95.9 L628.4,95.1 L628.7,94.2 L629.1,93.4 L629.5,92.7 L629.9,91.9 L630.3,91.1 L630.8,90.4 L631.2,89.7 L631.7,89.0 L631.7,88.9 M630.8,129.4 L630.9,133.2 L631.0,136.3 L631.3,139.0 L631.6,141.4 L631.9,143.6 L632.4,145.7 L632.9,147.6 L633.5,149.5 L634.1,151.2 L634.8,152.8 L635.6,154.3 L636.5,155.8 L636.7,156.2 M630.8,120.6 L630.9,116.8 L631.0,113.7 L631.3,111.0 L631.6,108.6 L631.9,106.4 L632.4,104.3 L632.9,102.4 L633.5,100.5 L634.1,98.8 L634.8,97.2 L635.6,95.7 L636.5,94.2 L636.7,93.8 M643.2,129.5 L643.3,131.7 L643.4,133.5 L643.6,135.2 L643.7,136.7 L644.0,138.1 L644.2,139.5 L644.5,140.7 L644.9,141.9 L645.3,143.0 L645.7,144.1 L646.2,145.1 L646.7,146.1 L646.7,146.2 M643.2,120.5 L643.3,118.3 L643.4,116.5 L643.6,114.8 L643.7,113.3 L644.0,111.9 L644.2,110.5 L644.5,109.3 L644.9,108.1 L645.3,107.0 L645.7,105.9 L646.2,104.9 L646.7,103.9 L646.7,103.8 M649.2,129.4 L649.3,130.8 L649.4,132.1 L649.5,133.3 L649.6,134.3 L649.8,135.4 L649.9,136.3 L650.1,137.2 L650.4,138.1 L650.6,138.9 L650.9,139.7 L651.2,140.4 L651.5,141.2 L651.6,141.4 M649.2,120.6 L649.3,119.2 L649.4,117.9 L649.5,116.7 L649.6,115.7 L649.8,114.6 L649.9,113.7 L650.1,112.8 L650.4,111.9 L650.6,111.1 L650.9,110.3 L651.2,109.6 L651.5,108.8 L651.6,108.6 M655.3,129.4 L655.3,130.2 L655.4,130.9 L655.4,131.6 L655.5,132.3 L655.6,132.9 L655.7,133.5 L655.8,134.0 L656.0,134.6 L656.1,135.1 L656.3,135.6 L656.4,136.0 L656.6,136.5 L656.6,136.5 M655.3,120.6 L655.3,119.8 L655.4,119.1 L655.4,118.4 L655.5,117.7 L655.6,117.1 L655.7,116.5 L655.8,116.0 L656.0,115.4 L656.1,114.9 L656.3,114.4 L656.4,114.0 L656.6,113.5 L656.6,113.5 M660.9,129.4 L661.0,129.6 L661.0,129.9 L661.0,130.1 L661.0,130.3 L661.1,130.5 L661.1,130.7 L661.1,130.9 L661.2,131.1 L661.2,131.3 L661.3,131.5 L661.3,131.6 L661.3,131.8 L661.4,131.9 M660.9,120.6 L661.0,120.4 L661.0,120.1 L661.0,119.9 L661.0,119.7 L661.1,119.5 L661.1,119.3 L661.1,119.1 L661.2,118.9 L661.2,118.7 L661.3,118.5 L661.3,118.4 L661.3,118.2 L661.4,118.1" stroke-width="1.9" stroke="#fff" stroke-linecap="round" stroke-linejoin="round"/>
<path d="M670.5,87.0 L667.5,87.1 L665.0,87.2 L662.8,87.4 L660.8,87.7 L659.0,88.0 L657.3,88.3 L655.7,88.7 L654.2,89.2 L652.7,89.7 L651.4,90.3 L650.1,91.0 L648.9,91.7 L648.8,91.7 M679.5,87.0 L682.5,87.1 L685.0,87.2 L687.2,87.4 L689.2,87.7 L691.0,88.0 L692.7,88.3 L694.3,88.7 L695.8,89.2 L697.3,89.7 L698.6,90.3 L699.9,91.0 L701.1,91.7 L701.2,91.7 M713.0,120.5 L712.9,117.5 L712.8,115.0 L712.6,112.8 L712.3,110.8 L712.0,109.0 L711.7,107.3 L711.3,105.7 L710.8,104.2 L710.3,102.7 L709.7,101.4 L709.0,100.1 L708.3,98.9 L708.3,98.8 M713.0,129.5 L712.9,132.5 L712.8,135.0 L712.6,137.2 L712.3,139.2 L712.0,141.0 L711.7,142.7 L711.3,144.3 L710.8,145.8 L710.3,147.3 L709.7,148.6 L709.0,149.9 L708.3,151.1 L708.3,151.2 M679.5,163.0 L682.5,162.9 L685.0,162.8 L687.2,162.6 L689.2,162.3 L691.0,162.0 L692.7,161.7 L694.3,161.3 L695.8,160.8 L697.3,160.3 L698.6,159.7 L699.9,159.0 L701.1,158.3 L701.2,158.3 M670.5,163.0 L667.5,162.9 L665.0,162.8 L662.8,162.6 L660.8,162.3 L659.0,162.0 L657.3,161.7 L655.7,161.3 L654.2,160.8 L652.7,160.3 L651.4,159.7 L650.1,159.0 L648.9,158.3 L648.8,158.3 M637.0,129.5 L637.1,132.5 L637.2,135.0 L637.4,137.2 L637.7,139.2 L638.0,141.0 L638.3,142.7 L638.7,144.3 L639.2,145.8 L639.7,147.3 L640.3,148.6 L641.0,149.9 L641.7,151.1 L641.7,151.2 M637.0,120.5 L637.1,117.5 L637.2,115.0 L637.4,112.8 L637.7,110.8 L638.0,109.0 L638.3,107.3 L638.7,105.7 L639.2,104.2 L639.7,102.7 L640.3,101.4 L641.0,100.1 L641.7,98.9 L641.7,98.8" stroke-width="0.9" stroke="#fff" stroke-linecap="round" stroke-linejoin="round"/>
<line x1="675.0" y1="61.0" x2="675.0" y2="189.0" stroke-width="1.8" />
<line x1="611.0" y1="125.0" x2="739.0" y2="125.0" stroke-width="1.8" />
<rect x="665.2" y="115.8" width="20.0" height="18.0" rx="3" stroke-width="2.6" fill="#fff" />
<circle cx="675.0" cy="125.0" r="3.8" stroke-width="1.4" fill="none" />
<line x1="669.0" y1="125.0" x2="681.0" y2="125.0" stroke-width="1.2" />
<line x1="675.0" y1="119.0" x2="675.0" y2="131.0" stroke-width="1.2" />
<rect x="752.8" y="101.0" width="16.2" height="46.0" rx="0" stroke-width="1.6" fill="#fff" />
<line x1="757.0" y1="101.0" x2="757.0" y2="147.0" stroke-width="1.2" />
<path d="M751,92 L754,95 L754,155 L751,158" stroke-width="1.6" fill="none" />
<rect x="663.0" y="203.0" width="24.0" height="7.0" rx="0" stroke-width="1.6" fill="#fff" />
<rect x="665.0" y="210.0" width="20.0" height="6.0" rx="0" stroke-width="1.6" fill="#fff" />
<line x1="669.0" y1="210.0" x2="669.0" y2="216.0" stroke-width="1.0" />
<line x1="675.0" y1="210.0" x2="675.0" y2="216.0" stroke-width="1.0" />
<line x1="681.0" y1="210.0" x2="681.0" y2="216.0" stroke-width="1.0" />
<rect x="671.6" y="42.0" width="6.4" height="4.0" rx="0" stroke-width="1.4" fill="none" />
<line x1="675.0" y1="34.0" x2="675.0" y2="50.0" stroke-width="1.3" />
<line x1="675.0" y1="200.0" x2="675.0" y2="250.0" stroke-width="1.3" />
<line x1="555.0" y1="125.0" x2="600.0" y2="125.0" stroke-width="1.3" />
<line x1="740.0" y1="125.0" x2="790.0" y2="125.0" stroke-width="1.3" />
<line x1="675.0" y1="50.0" x2="675.0" y2="61.0" stroke-width="1.3" />
<line x1="600.0" y1="125.0" x2="611.0" y2="125.0" stroke-width="1.3" />
<polygon points="23.4,109.5 56.9,124.75 23.4,140" fill="#000" stroke="none"/>
<polygon points="376.2,109.5 409.1,124.75 376.2,140" fill="#000" stroke="none"/>
<line x1="280.0" y1="42.0" x2="365.0" y2="42.0" stroke-width="1.6" />
<line x1="280.0" y1="208.0" x2="365.0" y2="208.0" stroke-width="1.6" />
<line x1="355.3" y1="42.0" x2="355.3" y2="208.0" stroke-width="1.6" />
<polygon points="355.3,42.0 360.2,58.5 350.4,58.5" fill="#000" stroke="none"/>
<polygon points="355.3,208.0 350.4,191.5 360.2,191.5" fill="#000" stroke="none"/>
<text x="0" y="0" font-size="100" transform="translate(347.70,153.05) rotate(-90) scale(0.3065,0.3028)" stroke="none">180</text>
<line x1="159.4" y1="222.0" x2="159.4" y2="309.0" stroke-width="1.6" />
<line x1="251.7" y1="222.0" x2="251.7" y2="309.0" stroke-width="1.6" />
<line x1="159.4" y1="299.6" x2="251.7" y2="299.6" stroke-width="1.6" />
<polygon points="159.4,299.6 175.9,294.7 175.9,304.5" fill="#000" stroke="none"/>
<polygon points="251.7,299.6 235.2,304.5 235.2,294.7" fill="#000" stroke="none"/>
<text x="0" y="0" font-size="100" transform="translate(179.23,289.50) scale(0.3084,0.3042)" stroke="none">100</text>
<line x1="0.0" y1="303.6" x2="114.0" y2="303.6" stroke-width="1.6" />
<line x1="114.0" y1="303.6" x2="154.0" y2="217.0" stroke-width="1.6" />
<polygon points="154.0,217.0 151.5,234.0 142.6,229.9" fill="#000" stroke="none"/>
<text x="0" y="0" font-size="100" transform="translate(1.76,295.19) scale(0.2706,0.2926)" stroke="none">4</text>
<text x="0" y="0" font-size="100" transform="translate(25.53,295.20) scale(0.2729,0.2849)" stroke="none">x</text>
<ellipse cx="57.4" cy="284.5" rx="8.6" ry="10" stroke-width="2.1"/>
<line x1="51.4" y1="299.5" x2="63.5" y2="270.5" stroke-width="2.1" />
<text x="0" y="0" font-size="100" transform="translate(75.22,295.10) scale(0.2970,0.2942)" stroke="none">14</text>
<polygon points="496.4,109.5 529.4,124.75 496.4,140" fill="#000" stroke="none"/>
<polygon points="800.9,109.5 833.9,124.75 800.9,140" fill="#000" stroke="none"/>
<line x1="490.7" y1="189.0" x2="599.5" y2="80.3" stroke-width="1.6" />
<line x1="609.6" y1="306.0" x2="709.5" y2="212.5" stroke-width="1.6" />
<line x1="497.4" y1="183.6" x2="615.6" y2="301.7" stroke-width="1.6" />
<polygon points="497.4,183.6 512.5,191.8 505.6,198.7" fill="#000" stroke="none"/>
<polygon points="615.6,301.7 600.5,293.5 607.4,286.6" fill="#000" stroke="none"/>
<ellipse cx="543.5" cy="200.2" rx="8.6" ry="10" stroke-width="2.1" transform="rotate(45 543.5 200.2)"/>
<line x1="528.7" y1="206.6" x2="557.7" y2="194.6" stroke-width="2.1" />
<text x="0" y="0" font-size="100" transform="translate(573.4,231) rotate(45) scale(0.3050) translate(-85.50,34.50)" stroke="none">130</text>
<line x1="73.4" y1="376.0" x2="73.4" y2="547.0" stroke-width="1.6" />
<line x1="73.4" y1="388.7" x2="205.7" y2="388.7" stroke-width="1.6" />
<polygon points="73.4,388.7 89.9,383.8 89.9,393.6" fill="#000" stroke="none"/>
<polygon points="205.7,388.7 189.2,393.6 189.2,383.8" fill="#000" stroke="none"/>
<text x="0" y="0" font-size="100" transform="translate(112.66,375.10) scale(0.3169,0.3014)" stroke="none">109</text>
<line x1="40.3" y1="870.6" x2="172.6" y2="870.6" stroke-width="1.6" />
<polygon points="112.2,870.6 95.7,875.5 95.7,865.7" fill="#000" stroke="none"/>
<line x1="112.2" y1="860.0" x2="112.2" y2="1200.0" stroke-width="1.6" />
<line x1="131.7" y1="860.0" x2="131.7" y2="944.0" stroke-width="1.6" />
<polygon points="131.7,870.6 148.2,865.7 148.2,875.5" fill="#000" stroke="none"/>
<text x="0" y="0" font-size="100" transform="translate(41.21,857.30) scale(0.2988,0.3191)" stroke="none">(21)</text>
<line x1="239.7" y1="870.6" x2="371.6" y2="870.6" stroke-width="1.6" />
<polygon points="279.5,870.6 263.0,875.5 263.0,865.7" fill="#000" stroke="none"/>
<line x1="279.7" y1="860.0" x2="279.7" y2="944.0" stroke-width="1.6" />
<line x1="298.5" y1="860.0" x2="298.5" y2="1200.0" stroke-width="1.6" />
<polygon points="298.5,870.6 315.0,865.7 315.0,875.5" fill="#000" stroke="none"/>
<text x="0" y="0" font-size="100" transform="translate(318.82,858.21) scale(0.2964,0.3138)" stroke="none">(21)</text>
<polygon points="57.3,958.1 90.5,973.2 57.3,988.3" fill="#000" stroke="none"/>
<polygon points="405.9,958.1 439.1,973.2 405.9,988.3" fill="#000" stroke="none"/>
<line x1="295.0" y1="972.7" x2="396.0" y2="972.7" stroke-width="1.6" />
<line x1="279.0" y1="1042.7" x2="396.0" y2="1042.7" stroke-width="1.6" />
<line x1="388.7" y1="972.7" x2="388.7" y2="1042.7" stroke-width="1.6" />
<polygon points="388.7,972.7 393.6,989.2 383.8,989.2" fill="#000" stroke="none"/>
<polygon points="388.7,1042.7 383.8,1026.2 393.6,1026.2" fill="#000" stroke="none"/>
<text x="0" y="0" font-size="100" transform="translate(380.40,1022.74) rotate(-90) scale(0.2873,0.2957)" stroke="none">75</text>
<line x1="281.6" y1="1016.7" x2="350.7" y2="1016.7" stroke-width="1.6" />
<line x1="341.3" y1="976.0" x2="341.3" y2="1016.7" stroke-width="1.6" />
<polygon points="341.3,1016.7 336.4,1000.2 346.2,1000.2" fill="#000" stroke="none"/>
<line x1="341.3" y1="1042.7" x2="341.3" y2="1122.7" stroke-width="1.6" />
<polygon points="341.3,1042.7 346.2,1059.2 336.4,1059.2" fill="#000" stroke="none"/>
<text x="0" y="0" font-size="100" transform="translate(333.54,1120.09) rotate(-90) scale(0.2778,0.2892)" stroke="none">27,5</text>
<line x1="129.5" y1="1041.0" x2="129.5" y2="1106.0" stroke-width="1.6" />
<line x1="281.6" y1="1041.0" x2="281.6" y2="1106.0" stroke-width="1.6" />
<line x1="129.5" y1="1093.9" x2="281.6" y2="1093.9" stroke-width="1.6" />
<polygon points="129.5,1093.9 146.0,1089.0 146.0,1098.8" fill="#000" stroke="none"/>
<polygon points="281.6,1093.9 265.1,1098.8 265.1,1089.0" fill="#000" stroke="none"/>
<text x="0" y="0" font-size="100" transform="translate(178.07,1087.90) scale(0.3039,0.2986)" stroke="none">165</text>
<line x1="122.8" y1="1004.0" x2="122.8" y2="1153.0" stroke-width="1.6" />
<line x1="288.3" y1="1004.0" x2="288.3" y2="1153.0" stroke-width="1.6" />
<line x1="122.8" y1="1144.4" x2="288.3" y2="1144.4" stroke-width="1.6" />
<polygon points="122.8,1144.4 139.3,1139.5 139.3,1149.3" fill="#000" stroke="none"/>
<polygon points="288.3,1144.4 271.8,1149.3 271.8,1139.5" fill="#000" stroke="none"/>
<text x="0" y="0" font-size="100" transform="translate(178.31,1136.80) scale(0.3116,0.2972)" stroke="none">160</text>
<line x1="112.5" y1="1189.7" x2="298.5" y2="1189.7" stroke-width="1.6" />
<polygon points="112.5,1189.7 129.0,1184.8 129.0,1194.6" fill="#000" stroke="none"/>
<polygon points="298.5,1189.7 282.0,1194.6 282.0,1184.8" fill="#000" stroke="none"/>
<text x="0" y="0" font-size="100" transform="translate(179.29,1182.10) scale(0.3025,0.2972)" stroke="none">202</text>
<line x1="743.0" y1="423.0" x2="894.0" y2="423.0" stroke-width="1.6" />
<line x1="884.2" y1="423.0" x2="884.2" y2="1041.7" stroke-width="1.6" />
<polygon points="884.2,423.0 889.1,439.5 879.3,439.5" fill="#000" stroke="none"/>
<polygon points="884.2,1041.7 879.3,1025.2 889.1,1025.2" fill="#000" stroke="none"/>
<line x1="776.7" y1="1041.7" x2="893.0" y2="1041.7" stroke-width="1.6" />
<text x="0" y="0" font-size="100" transform="translate(874.70,756.59) rotate(-90) scale(0.2938,0.2958)" stroke="none">448</text>
<line x1="642.2" y1="981.0" x2="642.2" y2="1097.7" stroke-width="1.6" />
<line x1="711.9" y1="981.0" x2="711.9" y2="1097.7" stroke-width="1.6" />
<line x1="642.2" y1="1088.4" x2="711.9" y2="1088.4" stroke-width="1.6" />
<polygon points="642.2,1088.4 658.7,1083.5 658.7,1093.3" fill="#000" stroke="none"/>
<polygon points="711.9,1088.4 695.4,1093.3 695.4,1083.5" fill="#000" stroke="none"/>
<text x="0" y="0" font-size="100" transform="translate(664.55,1081.10) scale(0.2902,0.3014)" stroke="none">75</text>
<line x1="631.0" y1="984.0" x2="631.0" y2="1142.0" stroke-width="1.6" />
<line x1="722.7" y1="984.0" x2="722.7" y2="1143.0" stroke-width="1.6" />
<line x1="631.0" y1="1133.1" x2="722.7" y2="1133.1" stroke-width="1.6" />
<polygon points="631.0,1133.1 647.5,1128.2 647.5,1138.0" fill="#000" stroke="none"/>
<polygon points="722.7,1133.1 706.2,1138.0 706.2,1128.2" fill="#000" stroke="none"/>
<text x="0" y="0" font-size="100" transform="translate(664.48,1127.60) scale(0.3050,0.2972)" stroke="none">99</text>
<line x1="578.8" y1="1041.0" x2="578.8" y2="1185.0" stroke-width="1.6" />
<line x1="775.8" y1="1041.0" x2="775.8" y2="1185.0" stroke-width="1.6" />
<line x1="578.8" y1="1175.0" x2="775.8" y2="1175.0" stroke-width="1.6" />
<polygon points="578.8,1175.0 595.2,1170.1 595.2,1179.9" fill="#000" stroke="none"/>
<polygon points="775.8,1175.0 759.3,1179.9 759.3,1170.1" fill="#000" stroke="none"/>
<text x="0" y="0" font-size="100" transform="translate(655.40,1168.70) scale(0.3000,0.2972)" stroke="none">213</text>
<line x1="771.4" y1="874.6" x2="827.8" y2="874.6" stroke-width="1.6" />
<line x1="771.4" y1="874.6" x2="700.0" y2="947.2" stroke-width="1.6" />
<text x="0" y="0" font-size="100" transform="translate(775.97,868.31) scale(0.2856,0.2930)" stroke="none">G1&quot;</text>
<line x1="772.0" y1="910.8" x2="870.7" y2="910.8" stroke-width="1.6" />
<line x1="772.0" y1="910.8" x2="718.3" y2="962.5" stroke-width="1.6" />
<polygon points="718.3,962.5 726.8,947.5 733.6,954.6" fill="#000" stroke="none"/>
<text x="0" y="0" font-size="100" transform="translate(780.00,903.81) scale(0.2997,0.2930)" stroke="none">2xM10</text>
</svg></body></html>
